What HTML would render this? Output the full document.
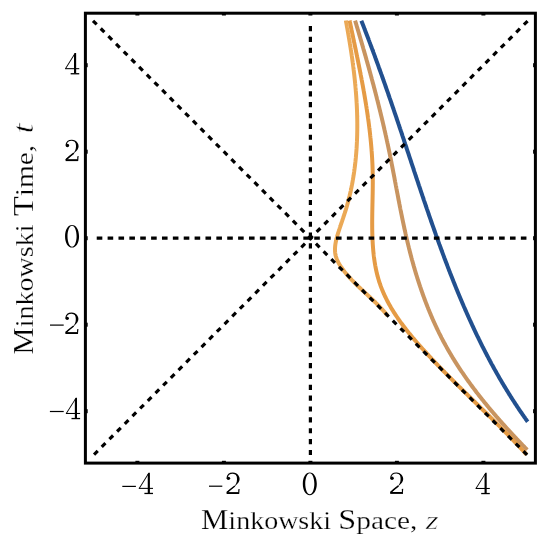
<!DOCTYPE html>
<html><head><meta charset="utf-8"><style>html,body{margin:0;padding:0;background:#fff;overflow:hidden}svg{display:block;will-change:transform}</style></head><body>
<svg width="550" height="539" viewBox="0 0 550 539">
<rect x="0" y="0" width="550" height="539" fill="#fff"/>
<path d="M361.34,20.74 C361.41,20.91 361.61,21.42 361.74,21.76 C361.87,22.10 362.00,22.44 362.14,22.78 C362.27,23.12 362.40,23.45 362.54,23.79 C362.67,24.13 362.80,24.47 362.93,24.81 C363.06,25.15 363.20,25.49 363.33,25.83 C363.46,26.17 363.59,26.50 363.72,26.84 C363.86,27.18 363.99,27.52 364.12,27.86 C364.25,28.20 364.38,28.54 364.51,28.88 C364.65,29.22 364.78,29.56 364.91,29.90 C365.04,30.24 365.17,30.57 365.30,30.91 C365.43,31.25 365.56,31.59 365.69,31.93 C365.82,32.27 365.95,32.61 366.08,32.95 C366.21,33.29 366.34,33.63 366.47,33.97 C366.60,34.31 366.73,34.65 366.86,34.99 C366.99,35.33 367.12,35.67 367.25,36.01 C367.38,36.35 367.51,36.69 367.64,37.03 C367.77,37.37 367.90,37.71 368.03,38.05 C368.16,38.39 368.29,38.73 368.42,39.07 C368.55,39.41 368.68,39.75 368.80,40.09 C368.93,40.43 369.06,40.77 369.19,41.11 C369.32,41.45 369.45,41.79 369.57,42.13 C369.70,42.47 369.83,42.81 369.96,43.15 C370.09,43.49 370.22,43.83 370.34,44.17 C370.47,44.51 370.60,44.85 370.73,45.19 C370.85,45.54 370.98,45.88 371.11,46.22 C371.24,46.56 371.36,46.90 371.49,47.24 C371.62,47.58 371.75,47.92 371.87,48.26 C372.00,48.60 372.13,48.94 372.25,49.28 C372.38,49.62 372.51,49.97 372.63,50.31 C372.76,50.65 372.89,50.99 373.01,51.33 C373.14,51.67 373.27,52.01 373.39,52.35 C373.52,52.69 373.64,53.03 373.77,53.38 C373.90,53.72 374.02,54.06 374.15,54.40 C374.27,54.74 374.40,55.08 374.52,55.42 C374.65,55.76 374.78,56.11 374.90,56.45 C375.03,56.79 375.15,57.13 375.28,57.47 C375.40,57.81 375.53,58.15 375.65,58.50 C375.78,58.84 375.90,59.18 376.03,59.52 C376.15,59.86 376.28,60.20 376.40,60.55 C376.52,60.89 376.65,61.23 376.77,61.57 C376.90,61.91 377.02,62.25 377.15,62.60 C377.27,62.94 377.40,63.28 377.52,63.62 C377.64,63.96 377.77,64.31 377.89,64.65 C378.01,64.99 378.14,65.33 378.26,65.67 C378.39,66.02 378.51,66.36 378.63,66.70 C378.76,67.04 378.88,67.38 379.00,67.73 C379.13,68.07 379.25,68.41 379.37,68.75 C379.50,69.10 379.62,69.44 379.74,69.78 C379.86,70.12 379.99,70.46 380.11,70.81 C380.23,71.15 380.36,71.49 380.48,71.83 C380.60,72.18 380.72,72.52 380.85,72.86 C380.97,73.20 381.09,73.55 381.21,73.89 C381.34,74.23 381.46,74.57 381.58,74.92 C381.70,75.26 381.82,75.60 381.95,75.94 C382.07,76.29 382.19,76.63 382.31,76.97 C382.43,77.32 382.55,77.66 382.68,78.00 C382.80,78.34 382.92,78.69 383.04,79.03 C383.16,79.37 383.28,79.72 383.40,80.06 C383.53,80.40 383.65,80.74 383.77,81.09 C383.89,81.43 384.01,81.77 384.13,82.12 C384.25,82.46 384.37,82.80 384.49,83.15 C384.61,83.49 384.74,83.83 384.86,84.17 C384.98,84.52 385.10,84.86 385.22,85.20 C385.34,85.55 385.46,85.89 385.58,86.23 C385.70,86.58 385.82,86.92 385.94,87.26 C386.06,87.61 386.18,87.95 386.30,88.29 C386.42,88.64 386.54,88.98 386.66,89.32 C386.78,89.67 386.90,90.01 387.02,90.35 C387.14,90.70 387.26,91.04 387.38,91.39 C387.50,91.73 387.62,92.07 387.74,92.42 C387.86,92.76 387.98,93.10 388.10,93.45 C388.21,93.79 388.33,94.13 388.45,94.48 C388.57,94.82 388.69,95.17 388.81,95.51 C388.93,95.85 389.05,96.20 389.17,96.54 C389.29,96.88 389.41,97.23 389.52,97.57 C389.64,97.92 389.76,98.26 389.88,98.60 C390.00,98.95 390.12,99.29 390.24,99.64 C390.35,99.98 390.47,100.32 390.59,100.67 C390.71,101.01 390.83,101.36 390.95,101.70 C391.06,102.04 391.18,102.39 391.30,102.73 C391.42,103.08 391.54,103.42 391.66,103.76 C391.77,104.11 391.89,104.45 392.01,104.80 C392.13,105.14 392.24,105.48 392.36,105.83 C392.48,106.17 392.60,106.52 392.72,106.86 C392.83,107.21 392.95,107.55 393.07,107.89 C393.19,108.24 393.30,108.58 393.42,108.93 C393.54,109.27 393.66,109.62 393.77,109.96 C393.89,110.31 394.01,110.65 394.13,110.99 C394.24,111.34 394.36,111.68 394.48,112.03 C394.59,112.37 394.71,112.72 394.83,113.06 C394.95,113.41 395.06,113.75 395.18,114.10 C395.30,114.44 395.41,114.78 395.53,115.13 C395.65,115.47 395.76,115.82 395.88,116.16 C396.00,116.51 396.11,116.85 396.23,117.20 C396.35,117.54 396.46,117.89 396.58,118.23 C396.70,118.58 396.81,118.92 396.93,119.27 C397.05,119.61 397.16,119.95 397.28,120.30 C397.39,120.64 397.51,120.99 397.63,121.33 C397.74,121.68 397.86,122.02 397.98,122.37 C398.09,122.71 398.21,123.06 398.32,123.40 C398.44,123.75 398.56,124.09 398.67,124.44 C398.79,124.78 398.90,125.13 399.02,125.47 C399.13,125.82 399.25,126.16 399.37,126.51 C399.48,126.85 399.60,127.20 399.71,127.54 C399.83,127.89 399.95,128.23 400.06,128.58 C400.18,128.92 400.29,129.27 400.41,129.61 C400.52,129.96 400.64,130.30 400.75,130.65 C400.87,130.99 400.98,131.34 401.10,131.69 C401.22,132.03 401.33,132.38 401.45,132.72 C401.56,133.07 401.68,133.41 401.79,133.76 C401.91,134.10 402.02,134.45 402.14,134.79 C402.25,135.14 402.37,135.48 402.48,135.83 C402.60,136.17 402.71,136.52 402.83,136.86 C402.94,137.21 403.06,137.55 403.17,137.90 C403.29,138.25 403.40,138.59 403.52,138.94 C403.63,139.28 403.75,139.63 403.86,139.97 C403.98,140.32 404.09,140.66 404.21,141.01 C404.32,141.35 404.44,141.70 404.55,142.04 C404.67,142.39 404.78,142.74 404.90,143.08 C405.01,143.43 405.13,143.77 405.24,144.12 C405.36,144.46 405.47,144.81 405.59,145.15 C405.70,145.50 405.82,145.84 405.93,146.19 C406.04,146.54 406.16,146.88 406.27,147.23 C406.39,147.57 406.50,147.92 406.62,148.26 C406.73,148.61 406.85,148.95 406.96,149.30 C407.08,149.65 407.19,149.99 407.31,150.34 C407.42,150.68 407.53,151.03 407.65,151.37 C407.76,151.72 407.88,152.06 407.99,152.41 C408.11,152.76 408.22,153.10 408.34,153.45 C408.45,153.79 408.57,154.14 408.68,154.48 C408.79,154.83 408.91,155.17 409.02,155.52 C409.14,155.87 409.25,156.21 409.37,156.56 C409.48,156.90 409.60,157.25 409.71,157.59 C409.83,157.94 409.94,158.28 410.05,158.63 C410.17,158.98 410.28,159.32 410.40,159.67 C410.51,160.01 410.63,160.36 410.74,160.70 C410.86,161.05 410.97,161.39 411.09,161.74 C411.20,162.09 411.31,162.43 411.43,162.78 C411.54,163.12 411.66,163.47 411.77,163.81 C411.89,164.16 412.00,164.50 412.12,164.85 C412.23,165.20 412.35,165.54 412.46,165.89 C412.57,166.23 412.69,166.58 412.80,166.92 C412.92,167.27 413.03,167.61 413.15,167.96 C413.26,168.31 413.38,168.65 413.49,169.00 C413.61,169.34 413.72,169.69 413.84,170.03 C413.95,170.38 414.07,170.72 414.18,171.07 C414.30,171.42 414.41,171.76 414.52,172.11 C414.64,172.45 414.75,172.80 414.87,173.14 C414.98,173.49 415.10,173.83 415.21,174.18 C415.33,174.52 415.44,174.87 415.56,175.22 C415.67,175.56 415.79,175.91 415.90,176.25 C416.02,176.60 416.13,176.94 416.25,177.29 C416.36,177.63 416.48,177.98 416.59,178.32 C416.71,178.67 416.82,179.01 416.94,179.36 C417.05,179.71 417.17,180.05 417.28,180.40 C417.40,180.74 417.51,181.09 417.63,181.43 C417.75,181.78 417.86,182.12 417.98,182.47 C418.09,182.81 418.21,183.16 418.32,183.50 C418.44,183.85 418.55,184.19 418.67,184.54 C418.78,184.89 418.90,185.23 419.01,185.58 C419.13,185.92 419.25,186.27 419.36,186.61 C419.48,186.96 419.59,187.30 419.71,187.65 C419.82,187.99 419.94,188.34 420.06,188.68 C420.17,189.03 420.29,189.37 420.40,189.72 C420.52,190.06 420.63,190.41 420.75,190.75 C420.87,191.10 420.98,191.44 421.10,191.79 C421.21,192.13 421.33,192.48 421.45,192.82 C421.56,193.17 421.68,193.51 421.80,193.86 C421.91,194.20 422.03,194.55 422.14,194.89 C422.26,195.24 422.38,195.58 422.49,195.93 C422.61,196.27 422.73,196.62 422.84,196.96 C422.96,197.31 423.08,197.65 423.19,198.00 C423.31,198.34 423.43,198.69 423.54,199.03 C423.66,199.38 423.78,199.72 423.89,200.07 C424.01,200.41 424.13,200.76 424.24,201.10 C424.36,201.44 424.48,201.79 424.59,202.13 C424.71,202.48 424.83,202.82 424.95,203.17 C425.06,203.51 425.18,203.86 425.30,204.20 C425.42,204.55 425.53,204.89 425.65,205.24 C425.77,205.58 425.89,205.92 426.00,206.27 C426.12,206.61 426.24,206.96 426.36,207.30 C426.47,207.65 426.59,207.99 426.71,208.34 C426.83,208.68 426.95,209.02 427.06,209.37 C427.18,209.71 427.30,210.06 427.42,210.40 C427.54,210.75 427.65,211.09 427.77,211.43 C427.89,211.78 428.01,212.12 428.13,212.47 C428.25,212.81 428.36,213.16 428.48,213.50 C428.60,213.84 428.72,214.19 428.84,214.53 C428.96,214.88 429.08,215.22 429.19,215.56 C429.31,215.91 429.43,216.25 429.55,216.60 C429.67,216.94 429.79,217.28 429.91,217.63 C430.03,217.97 430.15,218.32 430.27,218.66 C430.39,219.00 430.51,219.35 430.63,219.69 C430.74,220.03 430.86,220.38 430.98,220.72 C431.10,221.07 431.22,221.41 431.34,221.75 C431.46,222.10 431.58,222.44 431.70,222.78 C431.82,223.13 431.94,223.47 432.06,223.81 C432.18,224.16 432.30,224.50 432.42,224.84 C432.54,225.19 432.67,225.53 432.79,225.87 C432.91,226.22 433.03,226.56 433.15,226.90 C433.27,227.25 433.39,227.59 433.51,227.93 C433.63,228.28 433.75,228.62 433.87,228.96 C433.99,229.31 434.12,229.65 434.24,229.99 C434.36,230.34 434.48,230.68 434.60,231.02 C434.72,231.37 434.84,231.71 434.97,232.05 C435.09,232.39 435.21,232.74 435.33,233.08 C435.45,233.42 435.58,233.77 435.70,234.11 C435.82,234.45 435.94,234.79 436.06,235.14 C436.19,235.48 436.31,235.82 436.43,236.16 C436.55,236.51 436.68,236.85 436.80,237.19 C436.92,237.53 437.05,237.88 437.17,238.22 C437.29,238.56 437.41,238.90 437.54,239.25 C437.66,239.59 437.78,239.93 437.91,240.27 C438.03,240.62 438.15,240.96 438.28,241.30 C438.40,241.64 438.53,241.99 438.65,242.33 C438.77,242.67 438.90,243.01 439.02,243.35 C439.15,243.70 439.27,244.04 439.39,244.38 C439.52,244.72 439.64,245.06 439.77,245.41 C439.89,245.75 440.02,246.09 440.14,246.43 C440.27,246.77 440.39,247.11 440.52,247.46 C440.64,247.80 440.77,248.14 440.89,248.48 C441.02,248.82 441.14,249.16 441.27,249.51 C441.39,249.85 441.52,250.19 441.64,250.53 C441.77,250.87 441.90,251.21 442.02,251.55 C442.15,251.89 442.27,252.24 442.40,252.58 C442.53,252.92 442.65,253.26 442.78,253.60 C442.91,253.94 443.03,254.28 443.16,254.62 C443.29,254.96 443.41,255.31 443.54,255.65 C443.67,255.99 443.79,256.33 443.92,256.67 C444.05,257.01 444.18,257.35 444.30,257.69 C444.43,258.03 444.56,258.37 444.69,258.71 C444.82,259.05 444.94,259.39 445.07,259.73 C445.20,260.07 445.33,260.41 445.46,260.75 C445.59,261.10 445.71,261.44 445.84,261.78 C445.97,262.12 446.10,262.46 446.23,262.80 C446.36,263.14 446.49,263.48 446.62,263.82 C446.75,264.16 446.88,264.50 447.00,264.84 C447.13,265.18 447.26,265.52 447.39,265.85 C447.52,266.19 447.65,266.53 447.78,266.87 C447.91,267.21 448.04,267.55 448.18,267.89 C448.31,268.23 448.44,268.57 448.57,268.91 C448.70,269.25 448.83,269.59 448.96,269.93 C449.09,270.27 449.22,270.61 449.35,270.95 C449.48,271.28 449.62,271.62 449.75,271.96 C449.88,272.30 450.01,272.64 450.14,272.98 C450.28,273.32 450.41,273.66 450.54,273.99 C450.67,274.33 450.81,274.67 450.94,275.01 C451.07,275.35 451.20,275.69 451.34,276.03 C451.47,276.36 451.60,276.70 451.74,277.04 C451.87,277.38 452.00,277.72 452.14,278.06 C452.27,278.39 452.40,278.73 452.54,279.07 C452.67,279.41 452.81,279.74 452.94,280.08 C453.07,280.42 453.21,280.76 453.34,281.10 C453.48,281.43 453.61,281.77 453.75,282.11 C453.88,282.45 454.02,282.78 454.15,283.12 C454.29,283.46 454.42,283.80 454.56,284.13 C454.70,284.47 454.83,284.81 454.97,285.14 C455.10,285.48 455.24,285.82 455.38,286.15 C455.51,286.49 455.65,286.83 455.79,287.16 C455.92,287.50 456.06,287.84 456.20,288.17 C456.33,288.51 456.47,288.85 456.61,289.18 C456.75,289.52 456.88,289.86 457.02,290.19 C457.16,290.53 457.30,290.87 457.43,291.20 C457.57,291.54 457.71,291.87 457.85,292.21 C457.99,292.55 458.13,292.88 458.27,293.22 C458.40,293.55 458.54,293.89 458.68,294.22 C458.82,294.56 458.96,294.90 459.10,295.23 C459.24,295.57 459.38,295.90 459.52,296.24 C459.66,296.57 459.80,296.91 459.94,297.24 C460.08,297.58 460.22,297.91 460.36,298.25 C460.50,298.58 460.65,298.92 460.79,299.25 C460.93,299.59 461.07,299.92 461.21,300.25 C461.35,300.59 461.49,300.92 461.64,301.26 C461.78,301.59 461.92,301.93 462.06,302.26 C462.21,302.60 462.35,302.93 462.49,303.26 C462.63,303.60 462.78,303.93 462.92,304.26 C463.06,304.60 463.21,304.93 463.35,305.27 C463.49,305.60 463.64,305.93 463.78,306.27 C463.93,306.60 464.07,306.93 464.21,307.27 C464.36,307.60 464.50,307.93 464.65,308.27 C464.79,308.60 464.94,308.93 465.08,309.26 C465.23,309.60 465.37,309.93 465.52,310.26 C465.67,310.60 465.81,310.93 465.96,311.26 C466.10,311.59 466.25,311.93 466.40,312.26 C466.54,312.59 466.69,312.92 466.84,313.25 C466.98,313.59 467.13,313.92 467.28,314.25 C467.43,314.58 467.57,314.91 467.72,315.25 C467.87,315.58 468.02,315.91 468.17,316.24 C468.31,316.57 468.46,316.90 468.61,317.23 C468.76,317.57 468.91,317.90 469.06,318.23 C469.21,318.56 469.36,318.89 469.51,319.22 C469.66,319.55 469.81,319.88 469.96,320.21 C470.11,320.54 470.26,320.87 470.41,321.20 C470.56,321.53 470.71,321.86 470.86,322.19 C471.01,322.52 471.16,322.86 471.31,323.18 C471.46,323.51 471.62,323.84 471.77,324.17 C471.92,324.50 472.07,324.83 472.22,325.16 C472.38,325.49 472.53,325.82 472.68,326.15 C472.83,326.48 472.99,326.81 473.14,327.14 C473.29,327.47 473.45,327.80 473.60,328.13 C473.76,328.46 473.91,328.78 474.06,329.11 C474.22,329.44 474.37,329.77 474.53,330.10 C474.68,330.43 474.84,330.76 474.99,331.08 C475.15,331.41 475.30,331.74 475.46,332.07 C475.61,332.40 475.77,332.72 475.93,333.05 C476.08,333.38 476.24,333.71 476.40,334.03 C476.55,334.36 476.71,334.69 476.87,335.02 C477.02,335.34 477.18,335.67 477.34,336.00 C477.50,336.32 477.65,336.65 477.81,336.98 C477.97,337.31 478.13,337.63 478.29,337.96 C478.45,338.29 478.61,338.61 478.76,338.94 C478.92,339.26 479.08,339.59 479.24,339.92 C479.40,340.24 479.56,340.57 479.72,340.89 C479.88,341.22 480.04,341.55 480.20,341.87 C480.37,342.20 480.53,342.52 480.69,342.85 C480.85,343.17 481.01,343.50 481.17,343.82 C481.33,344.15 481.50,344.47 481.66,344.80 C481.82,345.12 481.98,345.45 482.15,345.77 C482.31,346.10 482.47,346.42 482.63,346.75 C482.80,347.07 482.96,347.39 483.13,347.72 C483.29,348.04 483.45,348.37 483.62,348.69 C483.78,349.01 483.95,349.34 484.11,349.66 C484.28,349.98 484.44,350.31 484.61,350.63 C484.77,350.96 484.94,351.28 485.11,351.60 C485.27,351.92 485.44,352.25 485.60,352.57 C485.77,352.89 485.94,353.22 486.11,353.54 C486.27,353.86 486.44,354.18 486.61,354.51 C486.78,354.83 486.94,355.15 487.11,355.47 C487.28,355.79 487.45,356.12 487.62,356.44 C487.79,356.76 487.95,357.08 488.12,357.40 C488.29,357.72 488.46,358.04 488.63,358.37 C488.80,358.69 488.97,359.01 489.14,359.33 C489.31,359.65 489.49,359.97 489.66,360.29 C489.83,360.61 490.00,360.93 490.17,361.25 C490.34,361.57 490.51,361.89 490.69,362.21 C490.86,362.53 491.03,362.85 491.20,363.17 C491.38,363.49 491.55,363.81 491.72,364.13 C491.90,364.45 492.07,364.77 492.24,365.09 C492.42,365.41 492.59,365.73 492.77,366.05 C492.94,366.37 493.12,366.68 493.29,367.00 C493.47,367.32 493.64,367.64 493.82,367.96 C493.99,368.28 494.17,368.60 494.35,368.91 C494.52,369.23 494.70,369.55 494.88,369.87 C495.05,370.18 495.23,370.50 495.41,370.82 C495.59,371.14 495.76,371.45 495.94,371.77 C496.12,372.09 496.30,372.41 496.48,372.72 C496.66,373.04 496.83,373.36 497.01,373.67 C497.19,373.99 497.37,374.31 497.55,374.62 C497.73,374.94 497.91,375.26 498.09,375.57 C498.27,375.89 498.46,376.20 498.64,376.52 C498.82,376.83 499.00,377.15 499.18,377.47 C499.36,377.78 499.55,378.10 499.73,378.41 C499.91,378.73 500.09,379.04 500.28,379.36 C500.46,379.67 500.64,379.98 500.83,380.30 C501.01,380.61 501.19,380.93 501.38,381.24 C501.56,381.56 501.75,381.87 501.93,382.18 C502.12,382.50 502.30,382.81 502.49,383.13 C502.67,383.44 502.86,383.75 503.05,384.07 C503.23,384.38 503.42,384.69 503.61,385.00 C503.79,385.32 503.98,385.63 504.17,385.94 C504.36,386.26 504.54,386.57 504.73,386.88 C504.92,387.19 505.11,387.50 505.30,387.82 C505.49,388.13 505.68,388.44 505.87,388.75 C506.06,389.06 506.25,389.37 506.44,389.69 C506.63,390.00 506.82,390.31 507.01,390.62 C507.20,390.93 507.39,391.24 507.58,391.55 C507.77,391.86 507.96,392.17 508.16,392.48 C508.35,392.79 508.54,393.10 508.73,393.41 C508.93,393.72 509.12,394.03 509.31,394.34 C509.51,394.65 509.70,394.96 509.90,395.27 C510.09,395.58 510.28,395.89 510.48,396.20 C510.67,396.51 510.87,396.82 511.07,397.12 C511.26,397.43 511.46,397.74 511.65,398.05 C511.85,398.36 512.05,398.67 512.24,398.97 C512.44,399.28 512.64,399.59 512.83,399.90 C513.03,400.20 513.23,400.51 513.43,400.82 C513.63,401.13 513.83,401.43 514.03,401.74 C514.22,402.05 514.42,402.35 514.62,402.66 C514.82,402.97 515.02,403.27 515.22,403.58 C515.42,403.89 515.63,404.19 515.83,404.50 C516.03,404.80 516.23,405.11 516.43,405.41 C516.63,405.72 516.84,406.03 517.04,406.33 C517.24,406.64 517.44,406.94 517.65,407.25 C517.85,407.55 518.05,407.86 518.26,408.16 C518.46,408.46 518.67,408.77 518.87,409.07 C519.08,409.38 519.28,409.68 519.49,409.98 C519.69,410.29 519.90,410.59 520.10,410.89 C520.31,411.20 520.52,411.50 520.72,411.80 C520.93,412.11 521.14,412.41 521.35,412.71 C521.55,413.01 521.76,413.32 521.97,413.62 C522.18,413.92 522.39,414.22 522.60,414.53 C522.81,414.83 523.02,415.13 523.23,415.43 C523.44,415.73 523.65,416.03 523.86,416.33 C524.07,416.64 524.28,416.94 524.49,417.24 C524.70,417.54 524.91,417.84 525.12,418.14 C525.34,418.44 525.55,418.74 525.76,419.04 C525.98,419.34 526.19,419.64 526.40,419.94 C526.62,420.24 526.83,420.54 527.04,420.84 C527.26,421.14 527.58,421.59 527.69,421.73" fill="none" stroke="#22508f" stroke-width="4" stroke-linecap="butt" stroke-linejoin="round"/>
<path d="M355.10,20.59 C355.16,20.77 355.33,21.34 355.44,21.72 C355.55,22.10 355.67,22.47 355.78,22.85 C355.89,23.23 356.01,23.61 356.12,23.99 C356.23,24.36 356.34,24.74 356.46,25.12 C356.57,25.50 356.68,25.88 356.80,26.25 C356.91,26.63 357.02,27.01 357.13,27.39 C357.24,27.77 357.36,28.14 357.47,28.52 C357.58,28.90 357.69,29.28 357.81,29.66 C357.92,30.03 358.03,30.41 358.14,30.79 C358.25,31.17 358.37,31.55 358.48,31.92 C358.59,32.30 358.70,32.68 358.81,33.06 C358.92,33.44 359.03,33.81 359.15,34.19 C359.26,34.57 359.37,34.95 359.48,35.33 C359.59,35.71 359.70,36.08 359.81,36.46 C359.92,36.84 360.04,37.22 360.15,37.60 C360.26,37.97 360.37,38.35 360.48,38.73 C360.59,39.11 360.70,39.49 360.81,39.87 C360.92,40.24 361.03,40.62 361.14,41.00 C361.25,41.38 361.36,41.76 361.47,42.14 C361.58,42.51 361.69,42.89 361.80,43.27 C361.91,43.65 362.02,44.03 362.13,44.41 C362.24,44.78 362.35,45.16 362.46,45.54 C362.57,45.92 362.68,46.30 362.79,46.68 C362.90,47.06 363.01,47.43 363.11,47.81 C363.22,48.19 363.33,48.57 363.44,48.95 C363.55,49.33 363.66,49.71 363.77,50.08 C363.88,50.46 363.98,50.84 364.09,51.22 C364.20,51.60 364.31,51.98 364.42,52.36 C364.53,52.73 364.63,53.11 364.74,53.49 C364.85,53.87 364.96,54.25 365.07,54.63 C365.17,55.01 365.28,55.39 365.39,55.76 C365.50,56.14 365.60,56.52 365.71,56.90 C365.82,57.28 365.92,57.66 366.03,58.04 C366.14,58.42 366.25,58.80 366.35,59.17 C366.46,59.55 366.57,59.93 366.67,60.31 C366.78,60.69 366.89,61.07 366.99,61.45 C367.10,61.83 367.20,62.21 367.31,62.59 C367.42,62.97 367.52,63.34 367.63,63.72 C367.73,64.10 367.84,64.48 367.95,64.86 C368.05,65.24 368.16,65.62 368.26,66.00 C368.37,66.38 368.47,66.76 368.58,67.14 C368.68,67.52 368.79,67.89 368.89,68.27 C369.00,68.65 369.10,69.03 369.21,69.41 C369.31,69.79 369.42,70.17 369.52,70.55 C369.63,70.93 369.73,71.31 369.83,71.69 C369.94,72.07 370.04,72.45 370.15,72.83 C370.25,73.21 370.35,73.59 370.46,73.97 C370.56,74.35 370.66,74.73 370.77,75.11 C370.87,75.49 370.97,75.87 371.08,76.24 C371.18,76.62 371.28,77.00 371.39,77.38 C371.49,77.76 371.59,78.14 371.69,78.52 C371.80,78.90 371.90,79.28 372.00,79.66 C372.10,80.04 372.20,80.42 372.31,80.80 C372.41,81.18 372.51,81.56 372.61,81.94 C372.71,82.32 372.81,82.70 372.92,83.08 C373.02,83.46 373.12,83.84 373.22,84.22 C373.32,84.60 373.42,84.98 373.52,85.36 C373.62,85.75 373.72,86.13 373.82,86.51 C373.92,86.89 374.02,87.27 374.13,87.65 C374.23,88.03 374.33,88.41 374.43,88.79 C374.53,89.17 374.62,89.55 374.72,89.93 C374.82,90.31 374.92,90.69 375.02,91.07 C375.12,91.45 375.22,91.83 375.32,92.21 C375.42,92.59 375.52,92.97 375.62,93.36 C375.71,93.74 375.81,94.12 375.91,94.50 C376.01,94.88 376.11,95.26 376.21,95.64 C376.30,96.02 376.40,96.40 376.50,96.78 C376.60,97.16 376.69,97.54 376.79,97.93 C376.89,98.31 376.99,98.69 377.08,99.07 C377.18,99.45 377.28,99.83 377.37,100.21 C377.47,100.59 377.57,100.98 377.66,101.36 C377.76,101.74 377.86,102.12 377.95,102.50 C378.05,102.88 378.14,103.26 378.24,103.64 C378.34,104.03 378.43,104.41 378.53,104.79 C378.62,105.17 378.72,105.55 378.81,105.93 C378.91,106.32 379.00,106.70 379.10,107.08 C379.19,107.46 379.29,107.84 379.38,108.22 C379.48,108.61 379.57,108.99 379.66,109.37 C379.76,109.75 379.85,110.13 379.95,110.51 C380.04,110.90 380.13,111.28 380.23,111.66 C380.32,112.04 380.41,112.42 380.51,112.81 C380.60,113.19 380.69,113.57 380.78,113.95 C380.88,114.34 380.97,114.72 381.06,115.10 C381.15,115.48 381.25,115.86 381.34,116.25 C381.43,116.63 381.52,117.01 381.61,117.39 C381.70,117.78 381.80,118.16 381.89,118.54 C381.98,118.92 382.07,119.31 382.16,119.69 C382.25,120.07 382.34,120.45 382.43,120.84 C382.52,121.22 382.61,121.60 382.70,121.99 C382.79,122.37 382.88,122.75 382.97,123.13 C383.06,123.52 383.15,123.90 383.24,124.28 C383.33,124.67 383.42,125.05 383.51,125.43 C383.60,125.82 383.68,126.20 383.77,126.58 C383.86,126.97 383.95,127.35 384.04,127.73 C384.13,128.12 384.21,128.50 384.30,128.88 C384.39,129.27 384.48,129.65 384.56,130.03 C384.65,130.42 384.74,130.80 384.83,131.18 C384.91,131.57 385.00,131.95 385.09,132.33 C385.17,132.72 385.26,133.10 385.35,133.49 C385.43,133.87 385.52,134.25 385.60,134.64 C385.69,135.02 385.77,135.40 385.86,135.79 C385.95,136.17 386.03,136.56 386.12,136.94 C386.20,137.33 386.28,137.71 386.37,138.09 C386.45,138.48 386.54,138.86 386.62,139.25 C386.71,139.63 386.79,140.01 386.87,140.40 C386.96,140.78 387.04,141.17 387.12,141.55 C387.21,141.94 387.29,142.32 387.37,142.71 C387.46,143.09 387.54,143.48 387.62,143.86 C387.70,144.25 387.79,144.63 387.87,145.02 C387.95,145.40 388.03,145.79 388.11,146.17 C388.20,146.56 388.28,146.94 388.36,147.33 C388.44,147.71 388.52,148.10 388.60,148.48 C388.68,148.87 388.76,149.25 388.84,149.64 C388.92,150.02 389.00,150.41 389.08,150.79 C389.16,151.18 389.24,151.56 389.32,151.95 C389.40,152.33 389.48,152.72 389.56,153.11 C389.64,153.49 389.72,153.88 389.80,154.26 C389.87,154.65 389.95,155.04 390.03,155.42 C390.11,155.81 390.19,156.19 390.26,156.58 C390.34,156.96 390.42,157.35 390.50,157.74 C390.58,158.12 390.65,158.51 390.73,158.90 C390.81,159.28 390.88,159.67 390.96,160.05 C391.04,160.44 391.11,160.83 391.19,161.21 C391.27,161.60 391.34,161.99 391.42,162.37 C391.50,162.76 391.57,163.14 391.65,163.53 C391.72,163.92 391.80,164.30 391.88,164.69 C391.95,165.08 392.03,165.46 392.10,165.85 C392.18,166.24 392.25,166.62 392.33,167.01 C392.40,167.40 392.48,167.78 392.55,168.17 C392.63,168.56 392.70,168.94 392.78,169.33 C392.85,169.72 392.93,170.10 393.00,170.49 C393.08,170.88 393.15,171.26 393.23,171.65 C393.30,172.04 393.38,172.43 393.45,172.81 C393.52,173.20 393.60,173.59 393.67,173.97 C393.75,174.36 393.82,174.75 393.89,175.13 C393.97,175.52 394.04,175.91 394.12,176.30 C394.19,176.68 394.26,177.07 394.34,177.46 C394.41,177.84 394.49,178.23 394.56,178.62 C394.63,179.00 394.71,179.39 394.78,179.78 C394.85,180.17 394.93,180.55 395.00,180.94 C395.07,181.33 395.15,181.71 395.22,182.10 C395.30,182.49 395.37,182.88 395.44,183.26 C395.52,183.65 395.59,184.04 395.66,184.43 C395.74,184.81 395.81,185.20 395.88,185.59 C395.96,185.97 396.03,186.36 396.10,186.75 C396.18,187.14 396.25,187.52 396.32,187.91 C396.40,188.30 396.47,188.68 396.54,189.07 C396.62,189.46 396.69,189.85 396.77,190.23 C396.84,190.62 396.91,191.01 396.99,191.39 C397.06,191.78 397.13,192.17 397.21,192.56 C397.28,192.94 397.36,193.33 397.43,193.72 C397.50,194.10 397.58,194.49 397.65,194.88 C397.72,195.27 397.80,195.65 397.87,196.04 C397.95,196.43 398.02,196.81 398.10,197.20 C398.17,197.59 398.24,197.98 398.32,198.36 C398.39,198.75 398.47,199.14 398.54,199.52 C398.62,199.91 398.69,200.30 398.77,200.68 C398.84,201.07 398.92,201.46 398.99,201.84 C399.07,202.23 399.14,202.62 399.22,203.01 C399.29,203.39 399.37,203.78 399.44,204.17 C399.52,204.55 399.59,204.94 399.67,205.33 C399.74,205.71 399.82,206.10 399.90,206.49 C399.97,206.87 400.05,207.26 400.12,207.65 C400.20,208.03 400.28,208.42 400.35,208.81 C400.43,209.19 400.51,209.58 400.58,209.97 C400.66,210.35 400.74,210.74 400.81,211.12 C400.89,211.51 400.97,211.90 401.05,212.28 C401.12,212.67 401.20,213.06 401.28,213.44 C401.36,213.83 401.43,214.21 401.51,214.60 C401.59,214.99 401.67,215.37 401.75,215.76 C401.83,216.15 401.90,216.53 401.98,216.92 C402.06,217.30 402.14,217.69 402.22,218.07 C402.30,218.46 402.38,218.85 402.46,219.23 C402.54,219.62 402.62,220.00 402.70,220.39 C402.78,220.78 402.86,221.16 402.94,221.55 C403.02,221.93 403.10,222.32 403.18,222.70 C403.26,223.09 403.35,223.47 403.43,223.86 C403.51,224.24 403.59,224.63 403.67,225.01 C403.75,225.40 403.84,225.78 403.92,226.17 C404.00,226.56 404.08,226.94 404.17,227.32 C404.25,227.71 404.33,228.09 404.42,228.48 C404.50,228.86 404.59,229.25 404.67,229.63 C404.75,230.02 404.84,230.40 404.92,230.79 C405.01,231.17 405.09,231.56 405.18,231.94 C405.26,232.33 405.35,232.71 405.44,233.09 C405.52,233.48 405.61,233.86 405.69,234.25 C405.78,234.63 405.87,235.01 405.95,235.40 C406.04,235.78 406.13,236.17 406.22,236.55 C406.30,236.93 406.39,237.32 406.48,237.70 C406.57,238.09 406.66,238.47 406.75,238.85 C406.84,239.24 406.93,239.62 407.02,240.00 C407.11,240.39 407.20,240.77 407.29,241.15 C407.38,241.54 407.47,241.92 407.56,242.30 C407.65,242.68 407.74,243.07 407.83,243.45 C407.92,243.83 408.02,244.22 408.11,244.60 C408.20,244.98 408.30,245.36 408.39,245.75 C408.48,246.13 408.58,246.51 408.67,246.89 C408.76,247.28 408.86,247.66 408.95,248.04 C409.05,248.42 409.14,248.80 409.24,249.19 C409.34,249.57 409.43,249.95 409.53,250.33 C409.62,250.71 409.72,251.09 409.82,251.47 C409.92,251.86 410.01,252.24 410.11,252.62 C410.21,253.00 410.31,253.38 410.41,253.76 C410.51,254.14 410.61,254.52 410.71,254.91 C410.81,255.29 410.91,255.67 411.01,256.05 C411.11,256.43 411.21,256.81 411.31,257.19 C411.41,257.57 411.51,257.95 411.61,258.33 C411.72,258.71 411.82,259.09 411.92,259.47 C412.03,259.85 412.13,260.23 412.23,260.61 C412.34,260.99 412.44,261.37 412.55,261.75 C412.65,262.13 412.76,262.50 412.86,262.88 C412.97,263.26 413.07,263.64 413.18,264.02 C413.29,264.40 413.39,264.78 413.50,265.16 C413.61,265.54 413.72,265.91 413.82,266.29 C413.93,266.67 414.04,267.05 414.15,267.43 C414.26,267.80 414.37,268.18 414.48,268.56 C414.59,268.94 414.70,269.31 414.81,269.69 C414.92,270.07 415.03,270.45 415.15,270.82 C415.26,271.20 415.37,271.58 415.48,271.95 C415.60,272.33 415.71,272.71 415.82,273.08 C415.94,273.46 416.05,273.84 416.17,274.21 C416.28,274.59 416.39,274.97 416.51,275.34 C416.63,275.72 416.74,276.09 416.86,276.47 C416.98,276.84 417.09,277.22 417.21,277.59 C417.33,277.97 417.44,278.34 417.56,278.72 C417.68,279.09 417.80,279.47 417.92,279.84 C418.04,280.22 418.16,280.59 418.28,280.97 C418.40,281.34 418.52,281.71 418.64,282.09 C418.76,282.46 418.89,282.84 419.01,283.21 C419.13,283.58 419.25,283.96 419.38,284.33 C419.50,284.70 419.62,285.08 419.75,285.45 C419.87,285.82 420.00,286.19 420.12,286.57 C420.25,286.94 420.37,287.31 420.50,287.68 C420.62,288.05 420.75,288.43 420.88,288.80 C421.01,289.17 421.13,289.54 421.26,289.91 C421.39,290.28 421.52,290.65 421.65,291.02 C421.78,291.40 421.91,291.77 422.04,292.14 C422.17,292.51 422.30,292.88 422.43,293.25 C422.56,293.62 422.69,293.99 422.83,294.36 C422.96,294.73 423.09,295.10 423.22,295.46 C423.36,295.83 423.49,296.20 423.63,296.57 C423.76,296.94 423.90,297.31 424.03,297.68 C424.17,298.05 424.30,298.41 424.44,298.78 C424.58,299.15 424.71,299.52 424.85,299.88 C424.99,300.25 425.13,300.62 425.27,300.99 C425.41,301.35 425.54,301.72 425.68,302.09 C425.82,302.45 425.96,302.82 426.11,303.19 C426.25,303.55 426.39,303.92 426.53,304.28 C426.67,304.65 426.82,305.01 426.96,305.38 C427.10,305.74 427.25,306.11 427.39,306.47 C427.53,306.84 427.68,307.20 427.82,307.57 C427.97,307.93 428.12,308.30 428.26,308.66 C428.41,309.02 428.56,309.39 428.70,309.75 C428.85,310.11 429.00,310.48 429.15,310.84 C429.30,311.20 429.45,311.56 429.60,311.93 C429.75,312.29 429.90,312.65 430.05,313.01 C430.20,313.38 430.35,313.74 430.50,314.10 C430.65,314.46 430.81,314.82 430.96,315.18 C431.11,315.54 431.27,315.90 431.42,316.26 C431.58,316.62 431.73,316.98 431.89,317.34 C432.04,317.70 432.20,318.06 432.36,318.42 C432.51,318.78 432.67,319.14 432.83,319.50 C432.99,319.86 433.15,320.22 433.31,320.57 C433.47,320.93 433.62,321.29 433.79,321.65 C433.95,322.00 434.11,322.36 434.27,322.72 C434.43,323.08 434.59,323.43 434.76,323.79 C434.92,324.15 435.08,324.50 435.25,324.86 C435.41,325.21 435.58,325.57 435.74,325.93 C435.91,326.28 436.07,326.64 436.24,326.99 C436.41,327.35 436.57,327.70 436.74,328.05 C436.91,328.41 437.08,328.76 437.25,329.12 C437.41,329.47 437.58,329.82 437.75,330.18 C437.93,330.53 438.10,330.88 438.27,331.23 C438.44,331.59 438.61,331.94 438.78,332.29 C438.96,332.64 439.13,332.99 439.30,333.35 C439.48,333.70 439.65,334.05 439.83,334.40 C440.00,334.75 440.18,335.10 440.36,335.45 C440.53,335.80 440.71,336.15 440.89,336.50 C441.07,336.85 441.25,337.20 441.42,337.55 C441.60,337.90 441.78,338.24 441.96,338.59 C442.15,338.94 442.33,339.29 442.51,339.64 C442.69,339.98 442.87,340.33 443.06,340.68 C443.24,341.02 443.42,341.37 443.61,341.72 C443.79,342.06 443.98,342.41 444.16,342.76 C444.35,343.10 444.54,343.45 444.72,343.79 C444.91,344.14 445.10,344.48 445.29,344.82 C445.47,345.17 445.66,345.51 445.85,345.86 C446.04,346.20 446.23,346.54 446.43,346.89 C446.62,347.23 446.81,347.57 447.00,347.91 C447.19,348.26 447.39,348.60 447.58,348.94 C447.77,349.28 447.97,349.62 448.16,349.96 C448.36,350.31 448.55,350.65 448.75,350.99 C448.95,351.33 449.14,351.67 449.34,352.01 C449.54,352.35 449.74,352.69 449.94,353.03 C450.14,353.36 450.34,353.70 450.54,354.04 C450.74,354.38 450.94,354.72 451.14,355.06 C451.34,355.39 451.54,355.73 451.75,356.07 C451.95,356.40 452.15,356.74 452.35,357.08 C452.56,357.41 452.76,357.75 452.97,358.09 C453.17,358.42 453.38,358.76 453.59,359.09 C453.79,359.43 454.00,359.76 454.21,360.10 C454.41,360.43 454.62,360.77 454.83,361.10 C455.04,361.43 455.25,361.77 455.46,362.10 C455.67,362.43 455.88,362.77 456.09,363.10 C456.30,363.43 456.51,363.76 456.73,364.10 C456.94,364.43 457.15,364.76 457.36,365.09 C457.58,365.42 457.79,365.75 458.01,366.08 C458.22,366.41 458.43,366.74 458.65,367.07 C458.87,367.40 459.08,367.73 459.30,368.06 C459.52,368.39 459.73,368.72 459.95,369.05 C460.17,369.38 460.39,369.71 460.61,370.04 C460.82,370.36 461.04,370.69 461.26,371.02 C461.48,371.35 461.70,371.67 461.92,372.00 C462.15,372.33 462.37,372.65 462.59,372.98 C462.81,373.31 463.03,373.63 463.26,373.96 C463.48,374.28 463.70,374.61 463.93,374.93 C464.15,375.26 464.38,375.58 464.60,375.91 C464.83,376.23 465.05,376.56 465.28,376.88 C465.50,377.20 465.73,377.53 465.96,377.85 C466.19,378.17 466.41,378.50 466.64,378.82 C466.87,379.14 467.10,379.46 467.33,379.79 C467.56,380.11 467.79,380.43 468.02,380.75 C468.25,381.07 468.48,381.39 468.71,381.71 C468.94,382.03 469.17,382.36 469.40,382.68 C469.63,383.00 469.87,383.31 470.10,383.63 C470.33,383.95 470.57,384.27 470.80,384.59 C471.03,384.91 471.27,385.23 471.50,385.55 C471.74,385.87 471.97,386.18 472.21,386.50 C472.44,386.82 472.68,387.14 472.92,387.45 C473.15,387.77 473.39,388.09 473.63,388.40 C473.86,388.72 474.10,389.04 474.34,389.35 C474.58,389.67 474.82,389.98 475.06,390.30 C475.29,390.61 475.53,390.93 475.77,391.24 C476.01,391.56 476.25,391.87 476.49,392.19 C476.74,392.50 476.98,392.81 477.22,393.13 C477.46,393.44 477.70,393.75 477.94,394.07 C478.19,394.38 478.43,394.69 478.67,395.00 C478.92,395.32 479.16,395.63 479.40,395.94 C479.65,396.25 479.89,396.56 480.14,396.87 C480.38,397.18 480.63,397.49 480.87,397.81 C481.12,398.12 481.36,398.43 481.61,398.74 C481.86,399.05 482.10,399.35 482.35,399.66 C482.60,399.97 482.84,400.28 483.09,400.59 C483.34,400.90 483.59,401.21 483.84,401.52 C484.08,401.82 484.33,402.13 484.58,402.44 C484.83,402.75 485.08,403.05 485.33,403.36 C485.58,403.67 485.83,403.97 486.08,404.28 C486.33,404.59 486.58,404.89 486.83,405.20 C487.08,405.50 487.34,405.81 487.59,406.12 C487.84,406.42 488.09,406.73 488.34,407.03 C488.60,407.33 488.85,407.64 489.10,407.94 C489.36,408.25 489.61,408.55 489.86,408.85 C490.12,409.16 490.37,409.46 490.63,409.76 C490.88,410.07 491.14,410.37 491.39,410.67 C491.65,410.97 491.90,411.28 492.16,411.58 C492.41,411.88 492.67,412.18 492.92,412.48 C493.18,412.78 493.44,413.08 493.69,413.38 C493.95,413.68 494.21,413.99 494.47,414.29 C494.72,414.59 494.98,414.88 495.24,415.18 C495.50,415.48 495.75,415.78 496.01,416.08 C496.27,416.38 496.53,416.68 496.79,416.98 C497.05,417.28 497.31,417.57 497.57,417.87 C497.83,418.17 498.09,418.47 498.35,418.76 C498.61,419.06 498.87,419.36 499.13,419.66 C499.39,419.95 499.65,420.25 499.91,420.54 C500.17,420.84 500.43,421.14 500.69,421.43 C500.96,421.73 501.22,422.02 501.48,422.32 C501.74,422.61 502.00,422.91 502.27,423.20 C502.53,423.50 502.79,423.79 503.05,424.08 C503.32,424.38 503.58,424.67 503.84,424.96 C504.11,425.26 504.37,425.55 504.63,425.84 C504.90,426.14 505.16,426.43 505.43,426.72 C505.69,427.01 505.95,427.31 506.22,427.60 C506.48,427.89 506.75,428.18 507.01,428.47 C507.28,428.76 507.54,429.05 507.81,429.34 C508.07,429.63 508.34,429.93 508.61,430.22 C508.87,430.51 509.14,430.80 509.40,431.08 C509.67,431.37 509.94,431.66 510.20,431.95 C510.47,432.24 510.74,432.53 511.00,432.82 C511.27,433.11 511.54,433.40 511.80,433.68 C512.07,433.97 512.34,434.26 512.61,434.55 C512.87,434.83 513.14,435.12 513.41,435.41 C513.68,435.69 513.94,435.98 514.21,436.27 C514.48,436.55 514.75,436.84 515.02,437.13 C515.28,437.41 515.55,437.70 515.82,437.98 C516.09,438.27 516.36,438.55 516.63,438.84 C516.90,439.12 517.17,439.41 517.44,439.69 C517.70,439.97 517.97,440.26 518.24,440.54 C518.51,440.83 518.78,441.11 519.05,441.39 C519.32,441.68 519.59,441.96 519.86,442.24 C520.13,442.52 520.40,442.81 520.67,443.09 C520.94,443.37 521.21,443.65 521.48,443.93 C521.75,444.22 522.02,444.50 522.29,444.78 C522.56,445.06 522.83,445.34 523.10,445.62 C523.37,445.90 523.64,446.18 523.91,446.46 C524.19,446.74 524.46,447.02 524.73,447.30 C525.00,447.58 525.27,447.86 525.54,448.14 C525.81,448.42 526.08,448.70 526.35,448.97 C526.62,449.25 527.03,449.67 527.17,449.81" fill="none" stroke="#c89460" stroke-width="4" stroke-linecap="butt" stroke-linejoin="round"/>
<path d="M349.61,20.49 C349.65,20.69 349.77,21.30 349.85,21.70 C349.94,22.10 350.02,22.50 350.10,22.90 C350.19,23.31 350.27,23.71 350.36,24.11 C350.44,24.51 350.52,24.91 350.61,25.32 C350.69,25.72 350.77,26.12 350.86,26.52 C350.94,26.92 351.02,27.33 351.11,27.73 C351.19,28.13 351.28,28.53 351.36,28.93 C351.44,29.34 351.53,29.74 351.61,30.14 C351.70,30.54 351.78,30.95 351.86,31.35 C351.95,31.75 352.03,32.15 352.12,32.55 C352.20,32.96 352.28,33.36 352.37,33.76 C352.45,34.16 352.54,34.57 352.62,34.97 C352.70,35.37 352.79,35.77 352.87,36.18 C352.96,36.58 353.04,36.98 353.13,37.38 C353.21,37.79 353.29,38.19 353.38,38.59 C353.46,39.00 353.55,39.40 353.63,39.80 C353.71,40.20 353.80,40.61 353.88,41.01 C353.97,41.41 354.05,41.81 354.13,42.22 C354.22,42.62 354.30,43.02 354.39,43.43 C354.47,43.83 354.55,44.23 354.64,44.64 C354.72,45.04 354.81,45.44 354.89,45.84 C354.97,46.25 355.06,46.65 355.14,47.05 C355.22,47.46 355.31,47.86 355.39,48.26 C355.47,48.67 355.56,49.07 355.64,49.47 C355.72,49.88 355.81,50.28 355.89,50.68 C355.97,51.09 356.06,51.49 356.14,51.89 C356.22,52.30 356.31,52.70 356.39,53.10 C356.47,53.51 356.56,53.91 356.64,54.31 C356.72,54.72 356.80,55.12 356.89,55.53 C356.97,55.93 357.05,56.33 357.13,56.74 C357.22,57.14 357.30,57.54 357.38,57.95 C357.46,58.35 357.55,58.76 357.63,59.16 C357.71,59.56 357.79,59.97 357.87,60.37 C357.96,60.78 358.04,61.18 358.12,61.58 C358.20,61.99 358.28,62.39 358.36,62.80 C358.44,63.20 358.53,63.60 358.61,64.01 C358.69,64.41 358.77,64.82 358.85,65.22 C358.93,65.62 359.01,66.03 359.09,66.43 C359.17,66.84 359.25,67.24 359.33,67.65 C359.41,68.05 359.49,68.45 359.57,68.86 C359.65,69.26 359.73,69.67 359.81,70.07 C359.89,70.48 359.97,70.88 360.05,71.29 C360.13,71.69 360.21,72.10 360.28,72.50 C360.36,72.90 360.44,73.31 360.52,73.71 C360.60,74.12 360.68,74.52 360.75,74.93 C360.83,75.33 360.91,75.74 360.99,76.14 C361.07,76.55 361.14,76.95 361.22,77.36 C361.30,77.76 361.37,78.17 361.45,78.57 C361.53,78.98 361.61,79.38 361.68,79.79 C361.76,80.19 361.83,80.60 361.91,81.00 C361.99,81.41 362.06,81.81 362.14,82.22 C362.21,82.62 362.29,83.03 362.36,83.43 C362.44,83.84 362.51,84.24 362.59,84.65 C362.66,85.06 362.74,85.46 362.81,85.87 C362.88,86.27 362.96,86.68 363.03,87.08 C363.11,87.49 363.18,87.89 363.25,88.30 C363.32,88.71 363.40,89.11 363.47,89.52 C363.54,89.92 363.62,90.33 363.69,90.73 C363.76,91.14 363.83,91.55 363.90,91.95 C363.97,92.36 364.04,92.76 364.12,93.17 C364.19,93.57 364.26,93.98 364.33,94.39 C364.40,94.79 364.47,95.20 364.54,95.60 C364.61,96.01 364.68,96.42 364.75,96.82 C364.82,97.23 364.88,97.64 364.95,98.04 C365.02,98.45 365.09,98.85 365.16,99.26 C365.23,99.67 365.29,100.07 365.36,100.48 C365.43,100.89 365.49,101.29 365.56,101.70 C365.63,102.10 365.69,102.51 365.76,102.92 C365.83,103.32 365.89,103.73 365.96,104.14 C366.02,104.54 366.09,104.95 366.15,105.36 C366.22,105.76 366.28,106.17 366.35,106.58 C366.41,106.98 366.47,107.39 366.54,107.80 C366.60,108.20 366.66,108.61 366.72,109.02 C366.79,109.43 366.85,109.83 366.91,110.24 C366.97,110.65 367.03,111.05 367.10,111.46 C367.16,111.87 367.22,112.27 367.28,112.68 C367.34,113.09 367.40,113.50 367.46,113.90 C367.52,114.31 367.58,114.72 367.63,115.12 C367.69,115.53 367.75,115.94 367.81,116.35 C367.87,116.75 367.93,117.16 367.98,117.57 C368.04,117.98 368.10,118.38 368.15,118.79 C368.21,119.20 368.27,119.61 368.32,120.01 C368.38,120.42 368.43,120.83 368.49,121.24 C368.54,121.65 368.60,122.05 368.65,122.46 C368.70,122.87 368.76,123.28 368.81,123.68 C368.86,124.09 368.92,124.50 368.97,124.91 C369.02,125.32 369.07,125.72 369.12,126.13 C369.17,126.54 369.22,126.95 369.27,127.36 C369.33,127.76 369.38,128.17 369.42,128.58 C369.47,128.99 369.52,129.40 369.57,129.81 C369.62,130.21 369.67,130.62 369.72,131.03 C369.76,131.44 369.81,131.85 369.86,132.26 C369.90,132.66 369.95,133.07 370.00,133.48 C370.04,133.89 370.09,134.30 370.13,134.71 C370.18,135.12 370.22,135.52 370.26,135.93 C370.31,136.34 370.35,136.75 370.39,137.16 C370.44,137.57 370.48,137.98 370.52,138.39 C370.56,138.79 370.60,139.20 370.64,139.61 C370.68,140.02 370.73,140.43 370.76,140.84 C370.80,141.25 370.84,141.66 370.88,142.07 C370.92,142.48 370.96,142.88 371.00,143.29 C371.03,143.70 371.07,144.11 371.11,144.52 C371.14,144.93 371.18,145.34 371.22,145.75 C371.25,146.16 371.29,146.57 371.32,146.98 C371.35,147.39 371.39,147.80 371.42,148.21 C371.46,148.62 371.49,149.02 371.52,149.43 C371.55,149.84 371.58,150.25 371.61,150.66 C371.65,151.07 371.68,151.48 371.71,151.89 C371.74,152.30 371.77,152.71 371.79,153.12 C371.82,153.53 371.85,153.94 371.88,154.35 C371.91,154.76 371.93,155.17 371.96,155.58 C371.99,155.99 372.01,156.40 372.04,156.81 C372.06,157.22 372.09,157.63 372.11,158.04 C372.13,158.45 372.16,158.86 372.18,159.27 C372.20,159.68 372.23,160.09 372.25,160.50 C372.27,160.92 372.29,161.33 372.31,161.74 C372.33,162.15 372.35,162.56 372.37,162.97 C372.39,163.38 372.41,163.79 372.43,164.20 C372.44,164.61 372.46,165.02 372.48,165.43 C372.49,165.84 372.51,166.25 372.52,166.66 C372.54,167.07 372.55,167.49 372.57,167.90 C372.58,168.31 372.60,168.72 372.61,169.13 C372.62,169.54 372.63,169.95 372.64,170.36 C372.66,170.77 372.67,171.18 372.68,171.60 C372.69,172.01 372.70,172.42 372.70,172.83 C372.71,173.24 372.72,173.65 372.73,174.06 C372.74,174.47 372.74,174.89 372.75,175.30 C372.75,175.71 372.76,176.12 372.76,176.53 C372.77,176.94 372.77,177.36 372.78,177.77 C372.78,178.18 372.78,178.59 372.79,179.00 C372.79,179.41 372.79,179.83 372.79,180.24 C372.79,180.65 372.79,181.06 372.79,181.47 C372.79,181.88 372.79,182.30 372.79,182.71 C372.79,183.12 372.79,183.53 372.79,183.94 C372.78,184.36 372.78,184.77 372.78,185.18 C372.78,185.59 372.77,186.00 372.77,186.42 C372.76,186.83 372.76,187.24 372.76,187.65 C372.75,188.07 372.75,188.48 372.74,188.89 C372.74,189.30 372.73,189.71 372.73,190.13 C372.72,190.54 372.71,190.95 372.71,191.36 C372.70,191.78 372.69,192.19 372.69,192.60 C372.68,193.01 372.67,193.43 372.67,193.84 C372.66,194.25 372.65,194.66 372.64,195.08 C372.64,195.49 372.63,195.90 372.62,196.31 C372.61,196.73 372.60,197.14 372.59,197.55 C372.59,197.97 372.58,198.38 372.57,198.79 C372.56,199.20 372.55,199.62 372.54,200.03 C372.53,200.44 372.53,200.85 372.52,201.27 C372.51,201.68 372.50,202.09 372.49,202.51 C372.48,202.92 372.47,203.33 372.46,203.74 C372.46,204.16 372.45,204.57 372.44,204.98 C372.43,205.40 372.42,205.81 372.41,206.22 C372.40,206.64 372.39,207.05 372.39,207.46 C372.38,207.87 372.37,208.29 372.36,208.70 C372.35,209.11 372.35,209.53 372.34,209.94 C372.33,210.35 372.32,210.77 372.32,211.18 C372.31,211.59 372.30,212.00 372.29,212.42 C372.29,212.83 372.28,213.24 372.27,213.66 C372.27,214.07 372.26,214.48 372.26,214.90 C372.25,215.31 372.25,215.72 372.24,216.14 C372.24,216.55 372.23,216.96 372.23,217.38 C372.22,217.79 372.22,218.20 372.21,218.61 C372.21,219.03 372.21,219.44 372.21,219.85 C372.20,220.27 372.20,220.68 372.20,221.09 C372.20,221.51 372.20,221.92 372.19,222.33 C372.19,222.75 372.19,223.16 372.19,223.57 C372.19,223.99 372.19,224.40 372.20,224.81 C372.20,225.23 372.20,225.64 372.20,226.05 C372.20,226.47 372.21,226.88 372.21,227.29 C372.21,227.71 372.22,228.12 372.22,228.53 C372.23,228.94 372.23,229.36 372.24,229.77 C372.24,230.18 372.25,230.60 372.26,231.01 C372.27,231.42 372.27,231.84 372.28,232.25 C372.29,232.66 372.30,233.08 372.31,233.49 C372.32,233.90 372.34,234.32 372.35,234.73 C372.36,235.14 372.37,235.55 372.39,235.97 C372.40,236.38 372.41,236.79 372.43,237.21 C372.45,237.62 372.46,238.03 372.48,238.45 C372.50,238.86 372.51,239.27 372.53,239.69 C372.55,240.10 372.57,240.51 372.59,240.92 C372.61,241.34 372.64,241.75 372.66,242.16 C372.68,242.58 372.71,242.99 372.73,243.40 C372.75,243.82 372.78,244.23 372.81,244.64 C372.83,245.05 372.86,245.47 372.89,245.88 C372.92,246.29 372.95,246.71 372.98,247.12 C373.01,247.53 373.05,247.94 373.08,248.36 C373.11,248.77 373.15,249.18 373.18,249.59 C373.22,250.01 373.26,250.42 373.29,250.83 C373.33,251.24 373.37,251.66 373.41,252.07 C373.45,252.48 373.50,252.89 373.54,253.30 C373.58,253.72 373.63,254.13 373.67,254.54 C373.72,254.95 373.77,255.36 373.81,255.77 C373.86,256.18 373.91,256.60 373.96,257.01 C374.02,257.42 374.07,257.83 374.12,258.24 C374.18,258.65 374.23,259.06 374.29,259.47 C374.35,259.88 374.41,260.28 374.47,260.69 C374.53,261.10 374.59,261.51 374.65,261.92 C374.71,262.33 374.78,262.73 374.84,263.14 C374.91,263.55 374.98,263.95 375.05,264.36 C375.12,264.77 375.19,265.17 375.26,265.58 C375.34,265.98 375.41,266.39 375.49,266.79 C375.56,267.20 375.64,267.60 375.72,268.00 C375.80,268.41 375.88,268.81 375.96,269.21 C376.05,269.62 376.13,270.02 376.22,270.42 C376.31,270.82 376.39,271.22 376.48,271.62 C376.57,272.02 376.67,272.42 376.76,272.82 C376.86,273.22 376.95,273.61 377.05,274.01 C377.15,274.41 377.25,274.80 377.35,275.20 C377.45,275.60 377.55,275.99 377.66,276.39 C377.77,276.78 377.87,277.17 377.98,277.57 C378.09,277.96 378.21,278.35 378.32,278.74 C378.43,279.13 378.55,279.53 378.67,279.91 C378.79,280.30 378.91,280.69 379.03,281.08 C379.15,281.47 379.27,281.86 379.40,282.24 C379.53,282.63 379.66,283.01 379.79,283.40 C379.92,283.78 380.05,284.17 380.18,284.55 C380.32,284.93 380.46,285.32 380.59,285.70 C380.73,286.08 380.87,286.46 381.02,286.84 C381.16,287.22 381.30,287.60 381.45,287.98 C381.60,288.35 381.74,288.73 381.89,289.11 C382.04,289.48 382.20,289.86 382.35,290.23 C382.50,290.61 382.66,290.98 382.82,291.36 C382.98,291.73 383.14,292.10 383.30,292.48 C383.46,292.85 383.62,293.22 383.79,293.59 C383.95,293.96 384.12,294.33 384.29,294.70 C384.45,295.07 384.63,295.43 384.80,295.80 C384.97,296.17 385.14,296.54 385.32,296.90 C385.49,297.27 385.67,297.63 385.85,298.00 C386.03,298.36 386.21,298.72 386.39,299.09 C386.57,299.45 386.76,299.81 386.94,300.17 C387.13,300.54 387.32,300.90 387.50,301.26 C387.69,301.62 387.88,301.98 388.08,302.33 C388.27,302.69 388.46,303.05 388.66,303.41 C388.85,303.77 389.05,304.12 389.25,304.48 C389.44,304.83 389.64,305.19 389.84,305.54 C390.05,305.90 390.25,306.25 390.45,306.60 C390.66,306.96 390.86,307.31 391.07,307.66 C391.28,308.01 391.48,308.36 391.69,308.72 C391.90,309.07 392.11,309.42 392.33,309.76 C392.54,310.11 392.75,310.46 392.97,310.81 C393.18,311.16 393.40,311.50 393.62,311.85 C393.84,312.20 394.05,312.54 394.28,312.89 C394.50,313.23 394.72,313.58 394.94,313.92 C395.16,314.27 395.39,314.61 395.61,314.95 C395.84,315.30 396.07,315.64 396.29,315.98 C396.52,316.32 396.75,316.66 396.98,317.00 C397.21,317.34 397.44,317.68 397.68,318.02 C397.91,318.36 398.14,318.70 398.38,319.04 C398.61,319.37 398.85,319.71 399.09,320.05 C399.32,320.39 399.56,320.72 399.80,321.06 C400.04,321.39 400.28,321.73 400.52,322.06 C400.77,322.40 401.01,322.73 401.25,323.06 C401.50,323.40 401.74,323.73 401.99,324.06 C402.23,324.39 402.48,324.73 402.73,325.06 C402.97,325.39 403.22,325.72 403.47,326.05 C403.72,326.38 403.97,326.71 404.22,327.04 C404.47,327.37 404.73,327.69 404.98,328.02 C405.23,328.35 405.49,328.68 405.74,329.00 C406.00,329.33 406.25,329.66 406.51,329.98 C406.77,330.31 407.02,330.63 407.28,330.96 C407.54,331.28 407.80,331.61 408.06,331.93 C408.32,332.25 408.58,332.58 408.84,332.90 C409.10,333.22 409.36,333.55 409.63,333.87 C409.89,334.19 410.15,334.51 410.42,334.83 C410.68,335.15 410.94,335.47 411.21,335.79 C411.48,336.11 411.74,336.43 412.01,336.75 C412.28,337.07 412.54,337.39 412.81,337.71 C413.08,338.02 413.35,338.34 413.62,338.66 C413.89,338.98 414.16,339.29 414.43,339.61 C414.70,339.92 414.97,340.24 415.24,340.56 C415.51,340.87 415.78,341.19 416.05,341.50 C416.33,341.82 416.60,342.13 416.87,342.44 C417.15,342.76 417.42,343.07 417.69,343.38 C417.97,343.70 418.24,344.01 418.52,344.32 C418.79,344.63 419.07,344.94 419.35,345.25 C419.62,345.57 419.90,345.88 420.17,346.19 C420.45,346.50 420.73,346.81 421.01,347.12 C421.28,347.43 421.56,347.74 421.84,348.04 C422.12,348.35 422.39,348.66 422.67,348.97 C422.95,349.28 423.23,349.59 423.51,349.89 C423.79,350.20 424.07,350.51 424.35,350.81 C424.63,351.12 424.91,351.43 425.19,351.73 C425.47,352.04 425.75,352.35 426.03,352.65 C426.31,352.96 426.59,353.26 426.87,353.57 C427.15,353.87 427.43,354.17 427.71,354.48 C428.00,354.78 428.28,355.09 428.56,355.39 C428.84,355.69 429.12,355.99 429.41,356.30 C429.69,356.60 429.97,356.90 430.25,357.20 C430.54,357.51 430.82,357.81 431.10,358.11 C431.38,358.41 431.67,358.71 431.95,359.01 C432.24,359.31 432.52,359.61 432.80,359.91 C433.09,360.21 433.37,360.51 433.66,360.81 C433.94,361.11 434.22,361.41 434.51,361.71 C434.79,362.01 435.08,362.31 435.36,362.61 C435.65,362.91 435.93,363.20 436.22,363.50 C436.50,363.80 436.79,364.10 437.08,364.39 C437.36,364.69 437.65,364.99 437.93,365.29 C438.22,365.58 438.51,365.88 438.79,366.18 C439.08,366.47 439.37,366.77 439.65,367.06 C439.94,367.36 440.23,367.66 440.51,367.95 C440.80,368.25 441.09,368.54 441.38,368.84 C441.66,369.13 441.95,369.43 442.24,369.72 C442.53,370.01 442.82,370.31 443.10,370.60 C443.39,370.90 443.68,371.19 443.97,371.48 C444.26,371.78 444.54,372.07 444.83,372.36 C445.12,372.66 445.41,372.95 445.70,373.24 C445.99,373.53 446.28,373.83 446.57,374.12 C446.86,374.41 447.15,374.70 447.44,375.00 C447.73,375.29 448.01,375.58 448.30,375.87 C448.59,376.16 448.88,376.45 449.17,376.75 C449.46,377.04 449.75,377.33 450.04,377.62 C450.33,377.91 450.63,378.20 450.92,378.49 C451.21,378.78 451.50,379.07 451.79,379.36 C452.08,379.65 452.37,379.94 452.66,380.23 C452.95,380.52 453.24,380.81 453.53,381.10 C453.82,381.39 454.12,381.68 454.41,381.97 C454.70,382.26 454.99,382.55 455.28,382.84 C455.57,383.12 455.86,383.41 456.16,383.70 C456.45,383.99 456.74,384.28 457.03,384.57 C457.32,384.86 457.61,385.14 457.91,385.43 C458.20,385.72 458.49,386.01 458.78,386.30 C459.08,386.59 459.37,386.87 459.66,387.16 C459.95,387.45 460.24,387.74 460.54,388.02 C460.83,388.31 461.12,388.60 461.41,388.89 C461.71,389.17 462.00,389.46 462.29,389.75 C462.59,390.04 462.88,390.32 463.17,390.61 C463.46,390.90 463.76,391.18 464.05,391.47 C464.34,391.76 464.64,392.05 464.93,392.33 C465.22,392.62 465.52,392.91 465.81,393.19 C466.10,393.48 466.40,393.77 466.69,394.05 C466.98,394.34 467.27,394.62 467.57,394.91 C467.86,395.20 468.16,395.48 468.45,395.77 C468.74,396.06 469.04,396.34 469.33,396.63 C469.62,396.92 469.92,397.20 470.21,397.49 C470.50,397.77 470.80,398.06 471.09,398.35 C471.38,398.63 471.68,398.92 471.97,399.21 C472.26,399.49 472.56,399.78 472.85,400.06 C473.15,400.35 473.44,400.64 473.73,400.92 C474.03,401.21 474.32,401.49 474.61,401.78 C474.91,402.07 475.20,402.35 475.49,402.64 C475.79,402.92 476.08,403.21 476.38,403.50 C476.67,403.78 476.96,404.07 477.26,404.36 C477.55,404.64 477.84,404.93 478.14,405.21 C478.43,405.50 478.73,405.79 479.02,406.07 C479.31,406.36 479.61,406.64 479.90,406.93 C480.19,407.22 480.49,407.50 480.78,407.79 C481.07,408.08 481.37,408.36 481.66,408.65 C481.95,408.94 482.25,409.22 482.54,409.51 C482.83,409.80 483.13,410.08 483.42,410.37 C483.71,410.66 484.01,410.94 484.30,411.23 C484.59,411.52 484.89,411.80 485.18,412.09 C485.47,412.38 485.77,412.66 486.06,412.95 C486.35,413.24 486.65,413.53 486.94,413.81 C487.23,414.10 487.53,414.39 487.82,414.68 C488.11,414.96 488.40,415.25 488.70,415.54 C488.99,415.83 489.28,416.11 489.58,416.40 C489.87,416.69 490.16,416.98 490.45,417.27 C490.75,417.55 491.04,417.84 491.33,418.13 C491.62,418.42 491.92,418.71 492.21,419.00 C492.50,419.29 492.79,419.57 493.08,419.86 C493.38,420.15 493.67,420.44 493.96,420.73 C494.25,421.02 494.54,421.31 494.84,421.60 C495.13,421.89 495.42,422.18 495.71,422.47 C496.00,422.76 496.29,423.05 496.59,423.34 C496.88,423.63 497.17,423.92 497.46,424.21 C497.75,424.50 498.04,424.79 498.33,425.08 C498.62,425.37 498.92,425.66 499.21,425.95 C499.50,426.24 499.79,426.53 500.08,426.82 C500.37,427.12 500.66,427.41 500.95,427.70 C501.24,427.99 501.53,428.28 501.82,428.57 C502.11,428.87 502.40,429.16 502.69,429.45 C502.98,429.74 503.27,430.04 503.56,430.33 C503.85,430.62 504.14,430.92 504.43,431.21 C504.72,431.50 505.01,431.80 505.30,432.09 C505.59,432.38 505.87,432.68 506.16,432.97 C506.45,433.27 506.74,433.56 507.03,433.86 C507.32,434.15 507.61,434.45 507.89,434.74 C508.18,435.04 508.47,435.33 508.76,435.63 C509.05,435.92 509.33,436.22 509.62,436.51 C509.91,436.81 510.20,437.11 510.49,437.40 C510.77,437.70 511.06,438.00 511.35,438.29 C511.63,438.59 511.92,438.89 512.21,439.19 C512.49,439.48 512.78,439.78 513.07,440.08 C513.35,440.38 513.64,440.68 513.93,440.98 C514.21,441.27 514.50,441.57 514.78,441.87 C515.07,442.17 515.35,442.47 515.64,442.77 C515.92,443.07 516.21,443.37 516.49,443.67 C516.78,443.97 517.06,444.27 517.35,444.57 C517.63,444.88 517.92,445.18 518.20,445.48 C518.49,445.78 518.77,446.08 519.05,446.38 C519.34,446.69 519.62,446.99 519.90,447.29 C520.19,447.60 520.47,447.90 520.75,448.20 C521.04,448.51 521.32,448.81 521.60,449.11 C521.88,449.42 522.17,449.72 522.45,450.03 C522.73,450.33 523.01,450.64 523.29,450.94 C523.58,451.25 523.86,451.56 524.14,451.86 C524.42,452.17 524.70,452.48 524.98,452.78 C525.26,453.09 525.54,453.40 525.82,453.70 C526.10,454.01 526.52,454.48 526.66,454.63" fill="none" stroke="#e59b45" stroke-width="4" stroke-linecap="butt" stroke-linejoin="round"/>
<path d="M345.86,20.53 C345.88,20.66 345.95,21.06 346.00,21.32 C346.05,21.58 346.10,21.84 346.15,22.10 C346.20,22.36 346.25,22.62 346.29,22.88 C346.34,23.15 346.39,23.41 346.44,23.67 C346.49,23.93 346.54,24.19 346.58,24.45 C346.63,24.71 346.68,24.98 346.73,25.24 C346.77,25.50 346.82,25.76 346.87,26.02 C346.92,26.28 346.97,26.54 347.01,26.81 C347.06,27.07 347.11,27.33 347.15,27.59 C347.20,27.85 347.25,28.11 347.30,28.38 C347.34,28.64 347.39,28.90 347.44,29.16 C347.48,29.42 347.53,29.68 347.58,29.95 C347.62,30.21 347.67,30.47 347.72,30.73 C347.76,30.99 347.81,31.26 347.86,31.52 C347.90,31.78 347.95,32.04 347.99,32.30 C348.04,32.57 348.09,32.83 348.13,33.09 C348.18,33.35 348.22,33.62 348.27,33.88 C348.31,34.14 348.36,34.40 348.40,34.66 C348.45,34.93 348.50,35.19 348.54,35.45 C348.59,35.71 348.63,35.98 348.68,36.24 C348.72,36.50 348.76,36.76 348.81,37.03 C348.85,37.29 348.90,37.55 348.94,37.81 C348.99,38.08 349.03,38.34 349.08,38.60 C349.12,38.86 349.16,39.13 349.21,39.39 C349.25,39.65 349.30,39.91 349.34,40.18 C349.38,40.44 349.43,40.70 349.47,40.96 C349.51,41.23 349.56,41.49 349.60,41.75 C349.64,42.02 349.69,42.28 349.73,42.54 C349.77,42.80 349.81,43.07 349.86,43.33 C349.90,43.59 349.94,43.86 349.98,44.12 C350.03,44.38 350.07,44.65 350.11,44.91 C350.15,45.17 350.20,45.43 350.24,45.70 C350.28,45.96 350.32,46.22 350.36,46.49 C350.40,46.75 350.45,47.01 350.49,47.28 C350.53,47.54 350.57,47.80 350.61,48.07 C350.65,48.33 350.69,48.59 350.73,48.86 C350.77,49.12 350.81,49.38 350.85,49.65 C350.90,49.91 350.94,50.17 350.98,50.44 C351.02,50.70 351.06,50.96 351.10,51.23 C351.14,51.49 351.18,51.75 351.22,52.02 C351.25,52.28 351.29,52.55 351.33,52.81 C351.37,53.07 351.41,53.34 351.45,53.60 C351.49,53.86 351.53,54.13 351.57,54.39 C351.61,54.65 351.65,54.92 351.68,55.18 C351.72,55.45 351.76,55.71 351.80,55.97 C351.84,56.24 351.87,56.50 351.91,56.77 C351.95,57.03 351.99,57.29 352.03,57.56 C352.06,57.82 352.10,58.08 352.14,58.35 C352.17,58.61 352.21,58.88 352.25,59.14 C352.29,59.40 352.32,59.67 352.36,59.93 C352.40,60.20 352.43,60.46 352.47,60.73 C352.50,60.99 352.54,61.25 352.58,61.52 C352.61,61.78 352.65,62.05 352.68,62.31 C352.72,62.57 352.75,62.84 352.79,63.10 C352.82,63.37 352.86,63.63 352.89,63.90 C352.93,64.16 352.96,64.42 353.00,64.69 C353.03,64.95 353.07,65.22 353.10,65.48 C353.14,65.75 353.17,66.01 353.20,66.28 C353.24,66.54 353.27,66.80 353.31,67.07 C353.34,67.33 353.37,67.60 353.41,67.86 C353.44,68.13 353.47,68.39 353.50,68.66 C353.54,68.92 353.57,69.18 353.60,69.45 C353.64,69.71 353.67,69.98 353.70,70.24 C353.73,70.51 353.76,70.77 353.80,71.04 C353.83,71.30 353.86,71.57 353.89,71.83 C353.92,72.10 353.95,72.36 353.98,72.63 C354.01,72.89 354.05,73.16 354.08,73.42 C354.11,73.68 354.14,73.95 354.17,74.21 C354.20,74.48 354.23,74.74 354.26,75.01 C354.29,75.27 354.32,75.54 354.35,75.80 C354.38,76.07 354.41,76.33 354.44,76.60 C354.46,76.86 354.49,77.13 354.52,77.39 C354.55,77.66 354.58,77.92 354.61,78.19 C354.64,78.45 354.66,78.72 354.69,78.98 C354.72,79.25 354.75,79.51 354.78,79.78 C354.80,80.04 354.83,80.31 354.86,80.57 C354.89,80.84 354.91,81.10 354.94,81.37 C354.97,81.63 354.99,81.90 355.02,82.17 C355.04,82.43 355.07,82.70 355.10,82.96 C355.12,83.23 355.15,83.49 355.17,83.76 C355.20,84.02 355.23,84.29 355.25,84.55 C355.28,84.82 355.30,85.08 355.33,85.35 C355.35,85.61 355.37,85.88 355.40,86.14 C355.42,86.41 355.45,86.68 355.47,86.94 C355.50,87.21 355.52,87.47 355.54,87.74 C355.57,88.00 355.59,88.27 355.61,88.53 C355.64,88.80 355.66,89.06 355.68,89.33 C355.70,89.60 355.73,89.86 355.75,90.13 C355.77,90.39 355.79,90.66 355.81,90.92 C355.84,91.19 355.86,91.45 355.88,91.72 C355.90,91.98 355.92,92.25 355.94,92.52 C355.96,92.78 355.98,93.05 356.00,93.31 C356.02,93.58 356.04,93.84 356.06,94.11 C356.08,94.38 356.10,94.64 356.12,94.91 C356.14,95.17 356.16,95.44 356.18,95.70 C356.20,95.97 356.22,96.23 356.24,96.50 C356.26,96.77 356.28,97.03 356.29,97.30 C356.31,97.56 356.33,97.83 356.35,98.10 C356.37,98.36 356.38,98.63 356.40,98.89 C356.42,99.16 356.43,99.42 356.45,99.69 C356.47,99.96 356.48,100.22 356.50,100.49 C356.52,100.75 356.53,101.02 356.55,101.28 C356.56,101.55 356.58,101.82 356.60,102.08 C356.61,102.35 356.63,102.61 356.64,102.88 C356.66,103.15 356.67,103.41 356.69,103.68 C356.70,103.94 356.71,104.21 356.73,104.48 C356.74,104.74 356.76,105.01 356.77,105.27 C356.78,105.54 356.80,105.80 356.81,106.07 C356.82,106.34 356.83,106.60 356.85,106.87 C356.86,107.13 356.87,107.40 356.88,107.67 C356.89,107.93 356.91,108.20 356.92,108.46 C356.93,108.73 356.94,109.00 356.95,109.26 C356.96,109.53 356.97,109.79 356.98,110.06 C356.99,110.33 357.00,110.59 357.01,110.86 C357.02,111.12 357.03,111.39 357.04,111.66 C357.05,111.92 357.06,112.19 357.07,112.46 C357.08,112.72 357.09,112.99 357.10,113.25 C357.10,113.52 357.11,113.79 357.12,114.05 C357.13,114.32 357.14,114.58 357.14,114.85 C357.15,115.12 357.16,115.38 357.16,115.65 C357.17,115.91 357.18,116.18 357.18,116.45 C357.19,116.71 357.20,116.98 357.20,117.25 C357.21,117.51 357.21,117.78 357.22,118.04 C357.22,118.31 357.23,118.58 357.23,118.84 C357.24,119.11 357.24,119.37 357.25,119.64 C357.25,119.91 357.25,120.17 357.26,120.44 C357.26,120.71 357.26,120.97 357.27,121.24 C357.27,121.50 357.27,121.77 357.28,122.04 C357.28,122.30 357.28,122.57 357.28,122.83 C357.28,123.10 357.29,123.37 357.29,123.63 C357.29,123.90 357.29,124.17 357.29,124.43 C357.29,124.70 357.29,124.96 357.29,125.23 C357.29,125.50 357.29,125.76 357.29,126.03 C357.29,126.30 357.29,126.56 357.29,126.83 C357.29,127.09 357.29,127.36 357.29,127.63 C357.29,127.89 357.28,128.16 357.28,128.43 C357.28,128.69 357.28,128.96 357.27,129.22 C357.27,129.49 357.27,129.76 357.27,130.02 C357.26,130.29 357.26,130.56 357.26,130.82 C357.25,131.09 357.25,131.35 357.24,131.62 C357.24,131.89 357.23,132.15 357.23,132.42 C357.22,132.69 357.22,132.95 357.21,133.22 C357.21,133.48 357.20,133.75 357.20,134.02 C357.19,134.28 357.18,134.55 357.18,134.82 C357.17,135.08 357.16,135.35 357.16,135.61 C357.15,135.88 357.14,136.15 357.13,136.41 C357.12,136.68 357.12,136.94 357.11,137.21 C357.10,137.48 357.09,137.74 357.08,138.01 C357.07,138.28 357.06,138.54 357.05,138.81 C357.04,139.07 357.03,139.34 357.02,139.61 C357.01,139.87 357.00,140.14 356.99,140.41 C356.98,140.67 356.97,140.94 356.96,141.20 C356.94,141.47 356.93,141.74 356.92,142.00 C356.91,142.27 356.90,142.54 356.88,142.80 C356.87,143.07 356.86,143.33 356.84,143.60 C356.83,143.87 356.82,144.13 356.80,144.40 C356.79,144.66 356.77,144.93 356.76,145.20 C356.74,145.46 356.73,145.73 356.71,146.00 C356.70,146.26 356.68,146.53 356.67,146.79 C356.65,147.06 356.63,147.33 356.62,147.59 C356.60,147.86 356.58,148.12 356.57,148.39 C356.55,148.66 356.53,148.92 356.51,149.19 C356.49,149.46 356.48,149.72 356.46,149.99 C356.44,150.25 356.42,150.52 356.40,150.79 C356.38,151.05 356.36,151.32 356.34,151.58 C356.32,151.85 356.30,152.12 356.28,152.38 C356.26,152.65 356.24,152.91 356.22,153.18 C356.20,153.45 356.17,153.71 356.15,153.98 C356.13,154.24 356.11,154.51 356.09,154.78 C356.06,155.04 356.04,155.31 356.02,155.57 C355.99,155.84 355.97,156.11 355.95,156.37 C355.92,156.64 355.90,156.90 355.87,157.17 C355.85,157.44 355.82,157.70 355.80,157.97 C355.77,158.23 355.75,158.50 355.72,158.76 C355.69,159.03 355.67,159.30 355.64,159.56 C355.61,159.83 355.59,160.09 355.56,160.36 C355.53,160.62 355.50,160.89 355.48,161.15 C355.45,161.42 355.42,161.69 355.39,161.95 C355.36,162.22 355.33,162.48 355.30,162.75 C355.27,163.01 355.24,163.28 355.21,163.54 C355.18,163.81 355.15,164.07 355.12,164.34 C355.09,164.60 355.06,164.87 355.03,165.13 C354.99,165.40 354.96,165.66 354.93,165.93 C354.90,166.19 354.87,166.46 354.83,166.72 C354.80,166.99 354.77,167.25 354.73,167.52 C354.70,167.78 354.66,168.05 354.63,168.31 C354.59,168.58 354.56,168.84 354.52,169.11 C354.49,169.37 354.45,169.64 354.42,169.90 C354.38,170.17 354.34,170.43 354.31,170.69 C354.27,170.96 354.23,171.22 354.20,171.49 C354.16,171.75 354.12,172.02 354.08,172.28 C354.04,172.54 354.01,172.81 353.97,173.07 C353.93,173.34 353.89,173.60 353.85,173.86 C353.81,174.13 353.77,174.39 353.73,174.65 C353.69,174.92 353.65,175.18 353.61,175.44 C353.56,175.71 353.52,175.97 353.48,176.24 C353.44,176.50 353.40,176.76 353.35,177.03 C353.31,177.29 353.27,177.55 353.22,177.81 C353.18,178.08 353.14,178.34 353.09,178.60 C353.05,178.87 353.00,179.13 352.96,179.39 C352.91,179.65 352.87,179.92 352.82,180.18 C352.78,180.44 352.73,180.70 352.68,180.97 C352.64,181.23 352.59,181.49 352.54,181.75 C352.50,182.02 352.45,182.28 352.40,182.54 C352.35,182.80 352.30,183.06 352.25,183.33 C352.20,183.59 352.16,183.85 352.11,184.11 C352.06,184.37 352.01,184.63 351.96,184.90 C351.90,185.16 351.85,185.42 351.80,185.68 C351.75,185.94 351.70,186.20 351.65,186.46 C351.60,186.72 351.54,186.99 351.49,187.25 C351.44,187.51 351.38,187.77 351.33,188.03 C351.28,188.29 351.22,188.55 351.17,188.81 C351.11,189.07 351.06,189.33 351.00,189.59 C350.95,189.85 350.89,190.11 350.84,190.37 C350.78,190.63 350.72,190.89 350.67,191.15 C350.61,191.41 350.55,191.67 350.49,191.93 C350.44,192.19 350.38,192.45 350.32,192.71 C350.26,192.97 350.20,193.23 350.14,193.48 C350.08,193.74 350.02,194.00 349.96,194.26 C349.90,194.52 349.84,194.78 349.78,195.04 C349.72,195.29 349.66,195.55 349.60,195.81 C349.53,196.07 349.47,196.33 349.41,196.59 C349.35,196.84 349.28,197.10 349.22,197.36 C349.16,197.62 349.09,197.87 349.03,198.13 C348.96,198.39 348.90,198.65 348.83,198.90 C348.77,199.16 348.70,199.42 348.64,199.67 C348.57,199.93 348.50,200.19 348.44,200.44 C348.37,200.70 348.30,200.96 348.23,201.21 C348.17,201.47 348.10,201.73 348.03,201.98 C347.96,202.24 347.89,202.49 347.82,202.75 C347.75,203.01 347.68,203.26 347.61,203.52 C347.54,203.77 347.47,204.03 347.40,204.28 C347.33,204.54 347.26,204.79 347.18,205.05 C347.11,205.30 347.04,205.56 346.97,205.81 C346.89,206.06 346.82,206.32 346.75,206.57 C346.67,206.83 346.60,207.08 346.52,207.34 C346.45,207.59 346.37,207.84 346.30,208.10 C346.22,208.35 346.15,208.60 346.07,208.86 C345.99,209.11 345.92,209.36 345.84,209.62 C345.76,209.87 345.68,210.12 345.61,210.37 C345.53,210.63 345.45,210.88 345.37,211.13 C345.29,211.38 345.21,211.63 345.13,211.89 C345.05,212.14 344.97,212.39 344.89,212.64 C344.81,212.89 344.73,213.15 344.65,213.40 C344.56,213.65 344.48,213.90 344.40,214.15 C344.32,214.40 344.24,214.65 344.15,214.91 C344.07,215.16 343.99,215.41 343.90,215.66 C343.82,215.91 343.74,216.16 343.65,216.41 C343.57,216.67 343.49,216.92 343.40,217.17 C343.32,217.42 343.23,217.67 343.15,217.92 C343.06,218.18 342.98,218.43 342.89,218.68 C342.81,218.93 342.72,219.18 342.64,219.44 C342.55,219.69 342.47,219.94 342.38,220.19 C342.30,220.45 342.21,220.70 342.13,220.95 C342.04,221.20 341.95,221.46 341.87,221.71 C341.78,221.96 341.70,222.22 341.61,222.47 C341.52,222.72 341.44,222.98 341.35,223.23 C341.26,223.49 341.18,223.74 341.09,224.00 C341.01,224.25 340.92,224.50 340.83,224.76 C340.75,225.02 340.66,225.27 340.57,225.53 C340.49,225.78 340.40,226.04 340.32,226.30 C340.23,226.55 340.14,226.81 340.06,227.07 C339.97,227.32 339.88,227.58 339.80,227.84 C339.71,228.10 339.63,228.36 339.54,228.61 C339.46,228.87 339.37,229.13 339.29,229.39 C339.20,229.65 339.12,229.91 339.03,230.17 C338.95,230.43 338.86,230.70 338.78,230.96 C338.69,231.22 338.61,231.48 338.52,231.74 C338.44,232.01 338.36,232.27 338.27,232.53 C338.19,232.79 338.11,233.06 338.03,233.32 C337.95,233.58 337.87,233.85 337.79,234.11 C337.71,234.38 337.63,234.64 337.55,234.91 C337.47,235.17 337.40,235.44 337.32,235.70 C337.24,235.97 337.17,236.23 337.10,236.50 C337.02,236.76 336.95,237.03 336.88,237.29 C336.81,237.56 336.74,237.82 336.67,238.09 C336.60,238.35 336.53,238.62 336.47,238.89 C336.40,239.15 336.34,239.42 336.28,239.68 C336.22,239.95 336.16,240.21 336.10,240.48 C336.04,240.74 335.98,241.01 335.93,241.27 C335.87,241.54 335.82,241.81 335.77,242.07 C335.72,242.34 335.67,242.60 335.62,242.86 C335.58,243.13 335.53,243.39 335.49,243.66 C335.45,243.92 335.41,244.19 335.37,244.45 C335.34,244.71 335.30,244.98 335.27,245.24 C335.24,245.50 335.21,245.76 335.18,246.03 C335.15,246.29 335.13,246.55 335.11,246.81 C335.09,247.07 335.07,247.34 335.05,247.60 C335.04,247.86 335.02,248.12 335.01,248.38 C335.00,248.64 335.00,248.90 334.99,249.15 C334.99,249.41 334.99,249.67 334.99,249.93 C335.00,250.19 335.00,250.44 335.01,250.70 C335.02,250.96 335.04,251.21 335.05,251.47 C335.07,251.72 335.09,251.98 335.11,252.23 C335.14,252.48 335.17,252.74 335.20,252.99 C335.23,253.24 335.26,253.49 335.30,253.74 C335.34,253.99 335.39,254.24 335.43,254.49 C335.48,254.74 335.53,254.99 335.59,255.24 C335.64,255.49 335.70,255.73 335.76,255.98 C335.83,256.22 335.90,256.47 335.97,256.71 C336.04,256.96 336.11,257.20 336.19,257.44 C336.27,257.69 336.35,257.93 336.44,258.17 C336.52,258.41 336.61,258.65 336.70,258.89 C336.80,259.13 336.89,259.36 336.99,259.60 C337.09,259.84 337.19,260.08 337.30,260.31 C337.40,260.55 337.51,260.78 337.62,261.02 C337.73,261.25 337.85,261.48 337.96,261.72 C338.08,261.95 338.20,262.18 338.32,262.41 C338.44,262.64 338.57,262.87 338.70,263.10 C338.82,263.33 338.95,263.56 339.09,263.79 C339.22,264.02 339.35,264.24 339.49,264.47 C339.62,264.70 339.76,264.92 339.90,265.15 C340.04,265.37 340.18,265.60 340.33,265.82 C340.47,266.04 340.62,266.26 340.77,266.49 C340.91,266.71 341.06,266.93 341.21,267.15 C341.37,267.37 341.52,267.59 341.67,267.81 C341.83,268.02 341.98,268.24 342.14,268.46 C342.29,268.68 342.45,268.89 342.61,269.11 C342.77,269.32 342.93,269.54 343.09,269.75 C343.25,269.97 343.41,270.18 343.58,270.39 C343.74,270.60 343.90,270.82 344.07,271.03 C344.23,271.24 344.40,271.45 344.56,271.66 C344.73,271.87 344.89,272.08 345.06,272.29 C345.23,272.49 345.40,272.70 345.57,272.91 C345.74,273.12 345.91,273.32 346.08,273.53 C346.25,273.73 346.42,273.94 346.59,274.14 C346.77,274.35 346.94,274.55 347.11,274.75 C347.29,274.96 347.46,275.16 347.64,275.36 C347.81,275.56 347.99,275.77 348.17,275.97 C348.34,276.17 348.52,276.37 348.70,276.57 C348.88,276.77 349.06,276.97 349.23,277.16 C349.41,277.36 349.59,277.56 349.78,277.76 C349.96,277.96 350.14,278.15 350.32,278.35 C350.50,278.55 350.68,278.74 350.87,278.94 C351.05,279.13 351.23,279.33 351.42,279.52 C351.60,279.72 351.79,279.91 351.97,280.11 C352.16,280.30 352.34,280.49 352.53,280.69 C352.72,280.88 352.90,281.07 353.09,281.26 C353.28,281.45 353.47,281.65 353.65,281.84 C353.84,282.03 354.03,282.22 354.22,282.41 C354.41,282.60 354.60,282.79 354.79,282.98 C354.98,283.17 355.17,283.36 355.36,283.55 C355.55,283.74 355.74,283.92 355.93,284.11 C356.13,284.30 356.32,284.49 356.51,284.68 C356.70,284.86 356.89,285.05 357.09,285.24 C357.28,285.43 357.47,285.61 357.67,285.80 C357.86,285.99 358.06,286.17 358.25,286.36 C358.44,286.54 358.64,286.73 358.83,286.91 C359.03,287.10 359.22,287.28 359.42,287.47 C359.61,287.65 359.81,287.84 360.00,288.02 C360.20,288.21 360.40,288.39 360.59,288.58 C360.79,288.76 360.98,288.94 361.18,289.13 C361.38,289.31 361.57,289.50 361.77,289.68 C361.97,289.86 362.16,290.05 362.36,290.23 C362.56,290.41 362.75,290.60 362.95,290.78 C363.15,290.96 363.35,291.14 363.54,291.33 C363.74,291.51 363.94,291.69 364.13,291.87 C364.33,292.06 364.53,292.24 364.73,292.42 C364.92,292.60 365.12,292.79 365.32,292.97 C365.52,293.15 365.71,293.33 365.91,293.52 C366.11,293.70 366.31,293.88 366.50,294.06 C366.70,294.24 366.90,294.43 367.10,294.61 C367.29,294.79 367.49,294.97 367.69,295.15 C367.89,295.34 368.08,295.52 368.28,295.70 C368.48,295.88 368.67,296.07 368.87,296.25 C369.07,296.43 369.26,296.61 369.46,296.79 C369.66,296.98 369.85,297.16 370.05,297.34 C370.25,297.53 370.44,297.71 370.64,297.89 C370.83,298.07 371.03,298.26 371.22,298.44 C371.42,298.62 371.61,298.81 371.81,298.99 C372.00,299.17 372.20,299.36 372.39,299.54 C372.59,299.72 372.78,299.91 372.97,300.09 C373.17,300.27 373.36,300.46 373.55,300.64 C373.75,300.83 373.94,301.01 374.13,301.20 C374.33,301.38 374.52,301.57 374.71,301.75 C374.90,301.94 375.09,302.12 375.28,302.31 C375.47,302.49 375.67,302.68 375.86,302.87 C376.05,303.05 376.24,303.24 376.43,303.43 C376.61,303.61 376.80,303.80 376.99,303.99 C377.18,304.17 377.37,304.36 377.56,304.55 C377.74,304.74 377.93,304.93 378.12,305.11 C378.30,305.30 378.49,305.49 378.68,305.68 C378.86,305.87 379.05,306.06 379.23,306.25 C379.42,306.44 379.60,306.63 379.78,306.82 C379.97,307.01 380.15,307.20 380.33,307.40 C380.51,307.59 380.70,307.78 380.88,307.97 C381.06,308.16 381.24,308.36 381.42,308.55 C381.60,308.74 381.78,308.94 381.96,309.13 C382.13,309.33 382.31,309.52 382.49,309.72 C382.67,309.91 382.84,310.11 383.02,310.30 C383.20,310.50 383.37,310.70 383.54,310.89 C383.72,311.09 383.89,311.29 384.07,311.49 C384.24,311.68 384.41,311.88 384.58,312.08 C384.75,312.28 384.92,312.48 385.09,312.68 C385.26,312.88 385.43,313.08 385.60,313.28 C385.77,313.48 385.94,313.69 386.10,313.89 C386.27,314.09 386.44,314.30 386.60,314.50 C386.77,314.70 386.93,314.91 387.09,315.11 C387.26,315.32 387.50,315.63 387.58,315.73" fill="none" stroke="#eba956" stroke-width="4" stroke-linecap="butt" stroke-linejoin="round"/>
<line x1="310.40" y1="456.95" x2="310.40" y2="21.95" stroke="#000" stroke-width="3.2" stroke-dasharray="5.200 5.670" stroke-dashoffset="9.020" stroke-linecap="butt"/>
<line x1="529.15" y1="238.20" x2="94.15" y2="238.20" stroke="#000" stroke-width="3.2" stroke-dasharray="5.600 5.275" stroke-dashoffset="8.175" stroke-linecap="butt"/>
<line x1="92.38" y1="456.22" x2="528.42" y2="20.18" stroke="#000" stroke-width="3.2" stroke-dasharray="5.200 5.655" stroke-dashoffset="8.455" stroke-linecap="butt"/>
<line x1="92.38" y1="20.18" x2="528.42" y2="456.22" stroke="#000" stroke-width="3.2" stroke-dasharray="5.200 5.670" stroke-dashoffset="9.970" stroke-linecap="butt"/>
<rect x="85.4" y="13.2" width="450.0" height="449.90000000000003" fill="none" stroke="#000" stroke-width="3.0"/>
<line x1="137.40" y1="463.1" x2="137.40" y2="460.8" stroke="#000" stroke-width="4"/>
<line x1="137.40" y1="13.2" x2="137.40" y2="15.5" stroke="#000" stroke-width="4"/>
<line x1="85.4" y1="411.20" x2="87.7" y2="411.20" stroke="#000" stroke-width="4"/>
<line x1="535.4" y1="411.20" x2="533.1" y2="411.20" stroke="#000" stroke-width="4"/>
<line x1="223.90" y1="463.1" x2="223.90" y2="460.8" stroke="#000" stroke-width="4"/>
<line x1="223.90" y1="13.2" x2="223.90" y2="15.5" stroke="#000" stroke-width="4"/>
<line x1="85.4" y1="324.70" x2="87.7" y2="324.70" stroke="#000" stroke-width="4"/>
<line x1="535.4" y1="324.70" x2="533.1" y2="324.70" stroke="#000" stroke-width="4"/>
<line x1="310.40" y1="463.1" x2="310.40" y2="460.8" stroke="#000" stroke-width="4"/>
<line x1="310.40" y1="13.2" x2="310.40" y2="15.5" stroke="#000" stroke-width="4"/>
<line x1="85.4" y1="238.20" x2="87.7" y2="238.20" stroke="#000" stroke-width="4"/>
<line x1="535.4" y1="238.20" x2="533.1" y2="238.20" stroke="#000" stroke-width="4"/>
<line x1="396.90" y1="463.1" x2="396.90" y2="460.8" stroke="#000" stroke-width="4"/>
<line x1="396.90" y1="13.2" x2="396.90" y2="15.5" stroke="#000" stroke-width="4"/>
<line x1="85.4" y1="151.70" x2="87.7" y2="151.70" stroke="#000" stroke-width="4"/>
<line x1="535.4" y1="151.70" x2="533.1" y2="151.70" stroke="#000" stroke-width="4"/>
<line x1="483.40" y1="463.1" x2="483.40" y2="460.8" stroke="#000" stroke-width="4"/>
<line x1="483.40" y1="13.2" x2="483.40" y2="15.5" stroke="#000" stroke-width="4"/>
<line x1="85.4" y1="65.20" x2="87.7" y2="65.20" stroke="#000" stroke-width="4"/>
<line x1="535.4" y1="65.20" x2="533.1" y2="65.20" stroke="#000" stroke-width="4"/>
<g transform="translate(65.05,53.00) scale(1.0)" fill="#000"><path d="M9.8,0 L11.1,0 L11.1,20.3 L8.95,20.3 L8.95,1.6 Z"/><path d="M9.7,0.1 L10.3,0.75 L1.05,15.5 L0,15.5 Z"/><rect x="0" y="15.15" width="14.2" height="1.05"/><rect x="5.6" y="20.1" width="8.6" height="1.3"/></g>
<g transform="translate(65.60,139.70) scale(1.0)" fill="#000"><g transform="scale(1.032,1)"><circle cx="1.75" cy="5.75" r="1.7"/><path d="M0.45,5.2 C0.9,2.0 3.2,0.55 6.0,0.55 C8.2,0.55 9.9,1.6 10.7,3.4" fill="none" stroke="#000" stroke-width="1.1"/><path d="M9.2,1.2 C11.3,1.9 12.6,3.9 12.6,6.5 C12.6,9.2 11.0,11.0 8.6,13.1 L7.0,14.4 C8.6,12.4 10.1,10.2 10.1,6.6 C10.1,4.2 9.6,2.5 8.6,1.3 Z"/><path d="M8.6,13.1 L1.3,19.7 L0,19.7 L0,19.5 L7.0,14.4 Z"/><path d="M8.0,13.4 C5.5,15.3 2.5,17.8 0.4,20.0" fill="none" stroke="#000" stroke-width="1.5"/><rect x="0" y="19.5" width="11.9" height="1.9"/><path d="M11.3,21.4 L11.3,17.0 L12.0,16.3 L12.6,16.3 L12.2,21.4 Z"/></g></g>
<g transform="translate(65.05,225.25) scale(1.0)" fill="#000"><path d="M7.0,-0.34999999999999964 C11.059999999999999,-0.34999999999999964 14.0,4.417000000000001 14.0,11.0 C14.0,17.583 11.059999999999999,22.35 7.0,22.35 C2.9400000000000004,22.35 0.0,17.583 0.0,11.0 C0.0,4.417000000000001 2.9400000000000004,-0.34999999999999964 7.0,-0.34999999999999964 Z M7.0,0.5 C4.4975000000000005,0.5 2.45,5.225 2.45,11.0 C2.45,16.775 4.4975000000000005,21.5 7.0,21.5 C9.5025,21.5 11.55,16.775 11.55,11.0 C11.55,5.225 9.5025,0.5 7.0,0.5 Z " fill-rule="evenodd"/></g>
<g transform="translate(65.40,312.60) scale(1.0)" fill="#000"><g transform="scale(1.032,1)"><circle cx="1.75" cy="5.75" r="1.7"/><path d="M0.45,5.2 C0.9,2.0 3.2,0.55 6.0,0.55 C8.2,0.55 9.9,1.6 10.7,3.4" fill="none" stroke="#000" stroke-width="1.1"/><path d="M9.2,1.2 C11.3,1.9 12.6,3.9 12.6,6.5 C12.6,9.2 11.0,11.0 8.6,13.1 L7.0,14.4 C8.6,12.4 10.1,10.2 10.1,6.6 C10.1,4.2 9.6,2.5 8.6,1.3 Z"/><path d="M8.6,13.1 L1.3,19.7 L0,19.7 L0,19.5 L7.0,14.4 Z"/><path d="M8.0,13.4 C5.5,15.3 2.5,17.8 0.4,20.0" fill="none" stroke="#000" stroke-width="1.5"/><rect x="0" y="19.5" width="11.9" height="1.9"/><path d="M11.3,21.4 L11.3,17.0 L12.0,16.3 L12.6,16.3 L12.2,21.4 Z"/></g></g>
<rect x="50.00" y="324.50" width="13.70" height="1.2" fill="#000"/>
<g transform="translate(65.90,397.80) scale(1.0)" fill="#000"><path d="M9.8,0 L11.1,0 L11.1,20.3 L8.95,20.3 L8.95,1.6 Z"/><path d="M9.7,0.1 L10.3,0.75 L1.05,15.5 L0,15.5 Z"/><rect x="0" y="15.15" width="14.2" height="1.05"/><rect x="5.6" y="20.1" width="8.6" height="1.3"/></g>
<rect x="49.90" y="410.90" width="13.80" height="1.2" fill="#000"/>
<g transform="translate(138.80,472.70) scale(1.0)" fill="#000"><path d="M9.8,0 L11.1,0 L11.1,20.3 L8.95,20.3 L8.95,1.6 Z"/><path d="M9.7,0.1 L10.3,0.75 L1.05,15.5 L0,15.5 Z"/><rect x="0" y="15.15" width="14.2" height="1.05"/><rect x="5.6" y="20.1" width="8.6" height="1.3"/></g>
<rect x="122.30" y="485.80" width="13.60" height="1.2" fill="#000"/>
<g transform="translate(226.60,472.60) scale(1.0)" fill="#000"><g transform="scale(1.032,1)"><circle cx="1.75" cy="5.75" r="1.7"/><path d="M0.45,5.2 C0.9,2.0 3.2,0.55 6.0,0.55 C8.2,0.55 9.9,1.6 10.7,3.4" fill="none" stroke="#000" stroke-width="1.1"/><path d="M9.2,1.2 C11.3,1.9 12.6,3.9 12.6,6.5 C12.6,9.2 11.0,11.0 8.6,13.1 L7.0,14.4 C8.6,12.4 10.1,10.2 10.1,6.6 C10.1,4.2 9.6,2.5 8.6,1.3 Z"/><path d="M8.6,13.1 L1.3,19.7 L0,19.7 L0,19.5 L7.0,14.4 Z"/><path d="M8.0,13.4 C5.5,15.3 2.5,17.8 0.4,20.0" fill="none" stroke="#000" stroke-width="1.5"/><rect x="0" y="19.5" width="11.9" height="1.9"/><path d="M11.3,21.4 L11.3,17.0 L12.0,16.3 L12.6,16.3 L12.2,21.4 Z"/></g></g>
<rect x="209.00" y="485.60" width="13.30" height="1.2" fill="#000"/>
<g transform="translate(302.80,472.85) scale(1.0)" fill="#000"><path d="M7.0,-0.34999999999999964 C11.059999999999999,-0.34999999999999964 14.0,4.417000000000001 14.0,11.0 C14.0,17.583 11.059999999999999,22.35 7.0,22.35 C2.9400000000000004,22.35 0.0,17.583 0.0,11.0 C0.0,4.417000000000001 2.9400000000000004,-0.34999999999999964 7.0,-0.34999999999999964 Z M7.0,0.5 C4.4975000000000005,0.5 2.45,5.225 2.45,11.0 C2.45,16.775 4.4975000000000005,21.5 7.0,21.5 C9.5025,21.5 11.55,16.775 11.55,11.0 C11.55,5.225 9.5025,0.5 7.0,0.5 Z " fill-rule="evenodd"/></g>
<g transform="translate(390.20,472.50) scale(1.0)" fill="#000"><g transform="scale(1.032,1)"><circle cx="1.75" cy="5.75" r="1.7"/><path d="M0.45,5.2 C0.9,2.0 3.2,0.55 6.0,0.55 C8.2,0.55 9.9,1.6 10.7,3.4" fill="none" stroke="#000" stroke-width="1.1"/><path d="M9.2,1.2 C11.3,1.9 12.6,3.9 12.6,6.5 C12.6,9.2 11.0,11.0 8.6,13.1 L7.0,14.4 C8.6,12.4 10.1,10.2 10.1,6.6 C10.1,4.2 9.6,2.5 8.6,1.3 Z"/><path d="M8.6,13.1 L1.3,19.7 L0,19.7 L0,19.5 L7.0,14.4 Z"/><path d="M8.0,13.4 C5.5,15.3 2.5,17.8 0.4,20.0" fill="none" stroke="#000" stroke-width="1.5"/><rect x="0" y="19.5" width="11.9" height="1.9"/><path d="M11.3,21.4 L11.3,17.0 L12.0,16.3 L12.6,16.3 L12.2,21.4 Z"/></g></g>
<g transform="translate(475.60,472.80) scale(1.0)" fill="#000"><path d="M9.8,0 L11.1,0 L11.1,20.3 L8.95,20.3 L8.95,1.6 Z"/><path d="M9.7,0.1 L10.3,0.75 L1.05,15.5 L0,15.5 Z"/><rect x="0" y="15.15" width="14.2" height="1.05"/><rect x="5.6" y="20.1" width="8.6" height="1.3"/></g>
<text x="201.10" y="529" font-family="Liberation Serif" font-size="26" stroke="#fff" stroke-width="0.25" textLength="129.94" lengthAdjust="spacingAndGlyphs"><tspan font-size="28.5">M</tspan>inkowski</text>
<text x="338.30" y="529" font-family="Liberation Serif" font-size="26" stroke="#fff" stroke-width="0.25" textLength="79.06" lengthAdjust="spacingAndGlyphs"><tspan font-size="28.5">S</tspan>pace,</text>
<text x="425.50" y="529" font-family="Liberation Serif" font-size="26" font-style="italic" stroke="#fff" stroke-width="0.6" textLength="13.09" lengthAdjust="spacingAndGlyphs">z</text>
<text transform="translate(33.3,354.70) rotate(-90)" x="0" y="0" font-family="Liberation Serif" font-size="26" stroke="#fff" stroke-width="0.25" textLength="130.17" lengthAdjust="spacingAndGlyphs"><tspan font-size="28.5">M</tspan>inkowski</text>
<text transform="translate(33.3,215.90) rotate(-90)" x="0" y="0" font-family="Liberation Serif" font-size="26" stroke="#fff" stroke-width="0.25" textLength="71.08" lengthAdjust="spacingAndGlyphs"><tspan font-size="28.5">T</tspan>ime,</text>
<text transform="translate(33.3,133.50) rotate(-90)" x="0" y="0" font-family="Liberation Serif" font-size="30" font-style="italic" stroke="#fff" stroke-width="0.6" textLength="10.05" lengthAdjust="spacingAndGlyphs">t</text>
</svg>
</body></html>
